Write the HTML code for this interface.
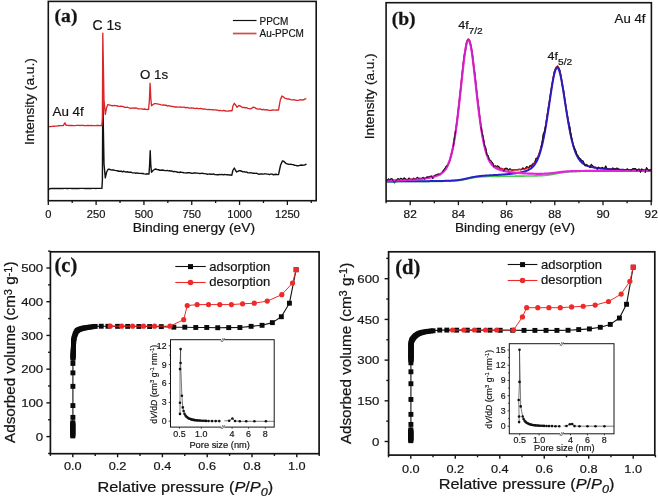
<!DOCTYPE html>
<html><head><meta charset="utf-8"><title>Figure</title>
<style>html,body{margin:0;padding:0;background:#fff;width:658px;height:497px;overflow:hidden}svg{display:block;will-change:transform}</style>
</head><body>
<svg width="658" height="497" viewBox="0 0 658 497">
<polyline points="48.3,190.2 49.3,188.9 51,188.5 52.21,188.46 53.42,188.43 54.64,188.52 55.85,188.4 57.06,188.5 58.27,188.46 59.48,188.39 60.7,188.48 61.91,188.39 63.12,188.46 64.33,188.39 65.54,188.39 66.75,188.45 67.97,188.53 69.18,188.39 70.39,188.41 71.6,188.49 72.81,188.55 74.03,188.47 75.24,188.43 76.45,188.55 77.66,188.36 78.87,188.52 80.09,188.4 81.3,188.37 82.51,188.36 83.72,188.4 84.93,188.5 86.15,188.37 87.36,188.44 88.57,188.45 89.78,188.4 90.99,188.43 92.2,188.33 93.42,188.33 94.63,188.36 95.84,188.45 97.05,188.4 98.26,188.37 99.48,188.42 100.69,188.39 101.9,188.4 102.4,180 102.8,96 103.3,125 104,164 105.3,177.9 106.6,172 108.3,169.2 109.62,169.27 110.93,169.9 112.25,170.06 113.57,169.93 114.88,170.43 116.2,170.6 117.42,170.78 118.64,171.22 119.86,171.26 121.08,171.07 122.3,171.78 123.52,171.25 124.74,171.65 125.96,172.09 127.18,171.76 128.4,172.2 129.62,172.31 130.84,172.07 132.06,172.69 133.28,172.89 134.5,172.86 135.72,173.22 136.94,172.89 138.16,173.32 139.38,173.36 140.6,173.4 141.8,173.55 143,173.54 144.2,173.93 145.4,174.1 146.6,173.81 147.8,174.05 149,174 149.6,165 150.2,150.7 150.8,165 151.5,172.2 153,170.5 154.8,169.2 156.04,169 157.29,169.67 158.53,169.78 159.78,170.22 161.02,170.24 162.27,169.96 163.51,170.2 164.76,170.58 166,170.6 167.2,170.38 168.4,170.89 169.6,170.81 170.8,170.93 172,171.05 173.2,171.77 174.4,171.42 175.6,171.68 176.8,171.95 178,172.2 179.22,172.57 180.45,172.01 181.67,172.37 182.89,172.52 184.11,172.86 185.34,172.88 186.56,172.98 187.78,172.59 189,172.77 190.23,172.79 191.45,173.28 192.67,173.41 193.9,172.84 195.12,172.93 196.34,173.04 197.56,173.11 198.79,173.39 200.01,173.54 201.23,173.35 202.45,173.21 203.68,173.61 204.9,173.65 206.12,173.87 207.35,174.25 208.57,174.11 209.79,174.04 211.01,174.2 212.24,174.31 213.46,173.89 214.68,174.63 215.9,174.61 217.13,174.75 218.35,174.76 219.57,174.51 220.8,174.59 222.02,174.42 223.24,174.91 224.46,174.53 225.69,174.6 226.91,174.79 228.13,174.82 229.35,175.03 230.58,174.87 231.8,175.3 232.8,170.5 234.3,168 235.6,170.5 236.7,172 238.9,170.8 240.27,170.77 241.63,171.25 243,171.9 244.25,171.76 245.5,172.14 246.75,172.05 248,172.9 249.25,172.87 250.5,172.67 251.75,172.93 253,173.3 254.26,173.28 255.53,173.39 256.79,173.3 258.05,173.98 259.31,174.19 260.58,173.87 261.84,173.99 263.1,174.1 264.38,173.81 265.67,173.87 266.95,174.1 268.23,174.08 269.52,174.57 270.8,174.08 272.08,174.01 273.37,174.79 274.65,174.5 275.93,174.23 277.22,174.59 278.5,174.6 280.6,165 282.5,160.9 283.7,161.25 284.9,162.37 286.1,163.46 287.3,163.8 288.52,164.31 289.74,164.4 290.97,164.28 292.19,164.58 293.41,164.64 294.63,165.35 295.86,165.38 297.08,165.8 298.3,165.8 299.67,165.4 301.03,165.05 302.4,165.25 303.77,165.12 305.13,164.75 306.5,164.2" fill="none" stroke="#111111" stroke-width="1.4" stroke-linejoin="round"/>
<polyline points="48.3,126.6 49.64,126.58 50.98,126.5 52.32,126.41 53.66,126.23 55,126.2 56.37,126.09 57.73,125.94 59.1,125.76 60.47,125.64 61.83,125.57 63.2,125.5 64.2,124.2 64.9,122.8 65.6,124.6 66.6,125.4 67.82,125.36 69.04,125.46 70.25,125.52 71.47,125.43 72.69,125.53 73.91,125.55 75.13,125.55 76.35,125.45 77.56,125.43 78.78,125.44 80,125.5 81.22,125.44 82.43,125.44 83.65,125.52 84.87,125.58 86.08,125.57 87.3,125.5 88.52,125.53 89.73,125.56 90.95,125.42 92.17,125.53 93.38,125.58 94.6,125.56 95.82,125.55 97.03,125.5 98.25,125.44 99.47,125.56 100.68,125.47 101.9,125.5 102.4,118 102.8,33.1 103.3,62 104,100 105.3,114.3 106.5,108 107.7,104.6 110,105.2 111.4,105.54 112.8,105.78 114.2,105.42 115.6,105.6 116.88,105.72 118.16,106.36 119.44,106.38 120.72,106.14 122,106.3 123.28,106.52 124.56,107.32 125.84,107.45 127.12,107.12 128.4,107.6 129.62,107.98 130.84,108.22 132.06,108.09 133.28,107.96 134.5,108.24 135.72,108.02 136.94,108.05 138.16,108.94 139.38,108.8 140.6,108.8 141.93,108.9 143.27,109.31 144.6,109 145.93,109.43 147.27,109.48 148.6,109.3 149.4,100 150.1,83.3 150.8,98 151.5,105.8 153,104.5 154.5,103.6 155.84,103.61 157.18,103.88 158.52,104.15 159.86,104.35 161.2,104.8 162.42,105.04 163.63,104.95 164.85,105.24 166.06,105.18 167.28,105.97 168.49,105.7 169.71,105.95 170.92,106.22 172.14,106.65 173.35,106.43 174.57,107 175.78,106.83 177,107 178.24,107.11 179.48,107.2 180.72,106.88 181.96,107.31 183.19,107.19 184.43,107.14 185.67,107.86 186.91,107.45 188.15,107.78 189.39,108.07 190.63,108.02 191.87,107.93 193.11,108.17 194.34,108.29 195.58,108.56 196.82,108.11 198.06,108.56 199.3,108.6 200.52,108.5 201.73,108.62 202.95,109.12 204.17,109.01 205.38,109.15 206.6,109.41 207.82,109.63 209.03,109.35 210.25,109.59 211.47,109.6 212.68,109.71 213.9,109.95 215.12,109.86 216.33,110.03 217.55,110.08 218.77,110.55 219.98,110.46 221.2,110.7 222.42,110.85 223.63,110.41 224.85,110.75 226.07,111.15 227.28,111.17 228.5,111 230.25,110.61 232,110.8 232.9,106 234.3,103.3 236,105.5 237,107.4 238.8,105.5 240.2,105.93 241.6,106.92 243,107.7 244.23,107.49 245.46,107.75 246.69,107.74 247.91,108.35 249.14,108.57 250.37,108.79 251.6,108.6 253.2,107.1 254.8,107.62 256.4,108.7 257.64,109.01 258.88,109.09 260.12,108.81 261.37,109.54 262.61,109.74 263.85,109.28 265.09,110 266.33,109.69 267.57,109.89 268.82,110.43 270.06,110.43 271.3,110.3 272.74,109.99 274.18,110.17 275.62,110.19 277.06,110.01 278.5,110.1 280.3,100 281.9,96 283.25,96.81 284.6,98.1 286.05,98.35 287.5,99.08 288.95,98.92 290.4,99.7 291.65,99.86 292.9,99.89 294.15,99.66 295.4,100.03 296.65,100.38 297.9,100.4 299.11,100.2 300.33,99.62 301.54,100.15 302.76,99.77 303.97,99.71 305.19,98.8 306.4,98.9" fill="none" stroke="#d8262b" stroke-width="1.35" stroke-linejoin="round"/>
<rect x="48.3" y="1.4" width="267.9" height="199.3" fill="none" stroke="#141414" stroke-width="1.6"/>
<line x1="48.3" y1="200.7" x2="48.3" y2="205" stroke="#141414" stroke-width="1.3"/>
<line x1="72.21" y1="200.7" x2="72.21" y2="203" stroke="#141414" stroke-width="1.3"/>
<line x1="96.12" y1="200.7" x2="96.12" y2="205" stroke="#141414" stroke-width="1.3"/>
<line x1="120.02" y1="200.7" x2="120.02" y2="203" stroke="#141414" stroke-width="1.3"/>
<line x1="143.93" y1="200.7" x2="143.93" y2="205" stroke="#141414" stroke-width="1.3"/>
<line x1="167.84" y1="200.7" x2="167.84" y2="203" stroke="#141414" stroke-width="1.3"/>
<line x1="191.75" y1="200.7" x2="191.75" y2="205" stroke="#141414" stroke-width="1.3"/>
<line x1="215.65" y1="200.7" x2="215.65" y2="203" stroke="#141414" stroke-width="1.3"/>
<line x1="239.56" y1="200.7" x2="239.56" y2="205" stroke="#141414" stroke-width="1.3"/>
<line x1="263.47" y1="200.7" x2="263.47" y2="203" stroke="#141414" stroke-width="1.3"/>
<line x1="287.38" y1="200.7" x2="287.38" y2="205" stroke="#141414" stroke-width="1.3"/>
<line x1="311.28" y1="200.7" x2="311.28" y2="203" stroke="#141414" stroke-width="1.3"/>
<text transform="translate(48.3,217.7) scale(1.05,1)" font-family='"Liberation Sans", sans-serif' font-size="10.6" text-anchor="middle" fill="#141414" stroke="#141414" stroke-width="0.19">0</text>
<text transform="translate(96.12,217.7) scale(1.05,1)" font-family='"Liberation Sans", sans-serif' font-size="10.6" text-anchor="middle" fill="#141414" stroke="#141414" stroke-width="0.19">250</text>
<text transform="translate(143.93,217.7) scale(1.05,1)" font-family='"Liberation Sans", sans-serif' font-size="10.6" text-anchor="middle" fill="#141414" stroke="#141414" stroke-width="0.19">500</text>
<text transform="translate(191.75,217.7) scale(1.05,1)" font-family='"Liberation Sans", sans-serif' font-size="10.6" text-anchor="middle" fill="#141414" stroke="#141414" stroke-width="0.19">750</text>
<text transform="translate(239.56,217.7) scale(1.05,1)" font-family='"Liberation Sans", sans-serif' font-size="10.6" text-anchor="middle" fill="#141414" stroke="#141414" stroke-width="0.19">1000</text>
<text transform="translate(287.38,217.7) scale(1.05,1)" font-family='"Liberation Sans", sans-serif' font-size="10.6" text-anchor="middle" fill="#141414" stroke="#141414" stroke-width="0.19">1250</text>
<text transform="translate(193.9,231.5) scale(1.05,1)" font-family='"Liberation Sans", sans-serif' font-size="13.2" text-anchor="middle" fill="#141414" stroke="#141414" stroke-width="0.21">Binding energy (eV)</text>
<text transform="translate(33.7,101.6) rotate(-90) scale(1.07,1)" font-family='"Liberation Sans", sans-serif' font-size="12.8" text-anchor="middle" fill="#141414" stroke="#141414" stroke-width="0.21">Intensity (a.u.)</text>
<text transform="translate(54.6,22)" font-family='"Liberation Serif", serif' font-size="19.6" text-anchor="start" fill="#141414" font-weight="bold" stroke="#141414" stroke-width="0.26">(a)</text>
<text transform="translate(92.4,29.7)" font-family='"Liberation Sans", sans-serif' font-size="14" text-anchor="start" fill="#141414" stroke="#141414" stroke-width="0.22">C 1s</text>
<text transform="translate(140,78.6)" font-family='"Liberation Sans", sans-serif' font-size="13.3" text-anchor="start" fill="#141414" stroke="#141414" stroke-width="0.21">O 1s</text>
<text transform="translate(52.5,116.3)" font-family='"Liberation Sans", sans-serif' font-size="13.4" text-anchor="start" fill="#141414" stroke="#141414" stroke-width="0.21">Au 4f</text>
<line x1="232.9" y1="20.5" x2="256.5" y2="20.5" stroke="#111" stroke-width="1.2"/>
<line x1="232.9" y1="33.5" x2="256.5" y2="33.5" stroke="#d84848" stroke-width="1.7"/>
<text transform="translate(259.5,24.8)" font-family='"Liberation Sans", sans-serif' font-size="10" text-anchor="start" fill="#141414" stroke="#141414" stroke-width="0.18">PPCM</text>
<text transform="translate(259.5,37.4)" font-family='"Liberation Sans", sans-serif' font-size="10" text-anchor="start" fill="#141414" stroke="#141414" stroke-width="0.18">Au-PPCM</text>
<polyline points="386.1,179.03 387.3,180.44 388.5,178.87 389.7,179.97 390.9,178.9 392.1,178.8 393.3,181.3 394.5,182.76 395.7,181.12 396.9,179.51 398.1,178.65 399.3,179.81 400.5,178.39 401.7,178.68 402.9,179.76 404.1,177.9 405.3,178.72 406.5,179.55 407.7,180.05 408.9,178.03 410.1,179.06 411.3,179.39 412.5,179.48 413.7,178.15 414.9,179.41 416.1,178.69 417.3,177.28 418.5,178.35 419.7,178.29 420.9,178.59 422.1,178.09 423.3,177.46 424.5,179.24 425.7,178.16 426.9,176.83 428.1,177.36 429.3,176.67 430.5,176.35 431.7,176.14 432.9,178.52 434.1,176.29 435.3,175.05 436.5,174.79 437.7,174.27 438.9,173.97 440.1,174.97 441.3,173.02 442.5,171.93 443.7,169.95 444.9,168.76 446.1,166.39 447.3,165.55 448.5,163.91 449.7,161.15 450.9,156.09 452.1,152.09 453.3,146.74 454.5,137.65 455.7,130.65 456.9,121.82 458.1,111.75 459.3,100.76 460.5,90.22 461.7,77.45 462.9,66.81 464.1,55.92 465.3,51.84 466.5,42.61 467.7,39.37 468.9,39.33 470.1,42.35 471.3,47.67 472.5,55.08 473.7,66.69 474.9,74.19 476.1,85.63 477.3,97.29 478.5,105.55 479.7,116.84 480.9,126.66 482.1,132.82 483.3,137.58 484.5,145.61 485.7,147.81 486.9,155.05 488.1,155.64 489.3,159.99 490.5,160.35 491.7,161.77 492.9,163.5 494.1,166.98 495.3,165.86 496.5,166.48 497.7,165.95 498.9,166.67 500.1,168.69 501.3,168.42 502.5,169.88 503.7,171.33 504.9,168.57 506.1,168.22 507.3,168.47 508.5,170.23 509.7,168.9 510.9,169.4 512.1,170.71 513.3,169.63 514.5,170.02 515.7,169.52 516.9,169.81 518.1,169.58 519.3,169.24 520.5,169.79 521.7,169.52 522.9,167.85 524.1,169.16 525.3,168.82 526.5,166.73 527.7,167.15 528.9,168.06 530.1,165.41 531.3,166.45 532.5,163.96 533.7,163.55 534.9,162.01 536.1,158.28 537.3,158.44 538.5,155.51 539.7,152.01 540.9,147.83 542.1,142.6 543.3,133.97 544.5,131.53 545.7,125.81 546.9,116.6 548.1,109.02 549.3,102.33 550.5,93.76 551.7,86.88 552.9,79.85 554.1,72.34 555.3,69.64 556.5,67.39 557.7,65.94 558.9,68.04 560.1,70.73 561.3,78.46 562.5,86.7 563.7,90.78 564.9,99.79 566.1,108.48 567.3,114.86 568.5,121.16 569.7,126.49 570.9,134.85 572.1,140.4 573.3,145.73 574.5,148.24 575.7,150.71 576.9,154.66 578.1,155.88 579.3,158.3 580.5,158.9 581.7,161.11 582.9,160.78 584.1,163.38 585.3,165.98 586.5,164.29 587.7,165.99 588.9,166.56 590.1,167.66 591.3,164.38 592.5,165.71 593.7,166.77 594.9,167.7 596.1,167.36 597.3,169.43 598.5,167.09 599.7,168.46 600.9,168.62 602.1,167.29 603.3,168.3 604.5,168.72 605.7,165.99 606.9,168.59 608.1,168.72 609.3,168.73 610.5,169.83 611.7,169.6 612.9,167.91 614.1,169.13 615.3,168.92 616.5,168.28 617.7,168.43 618.9,169.35 620.1,169.89 621.3,170.63 622.5,170.88 623.7,169.93 624.9,170.57 626.1,169.6 627.3,168.95 628.5,169.83 629.7,169.89 630.9,170.69 632.1,169.26 633.3,168.58 634.5,168.56 635.7,168.71 636.9,171.08 638.1,169.26 639.3,169.21 640.5,172.19 641.7,168.9 642.9,170.14 644.1,170.47 645.3,172.3 646.5,167.57 647.7,169.5 648.9,170.88 650.1,169.89 651.3,169.94" fill="none" stroke="#1a1a1a" stroke-width="1.2" stroke-linejoin="round"/>
<polyline points="386.1,181.6 386.7,181.6 387.3,181.6 387.9,181.6 388.5,181.59 389.1,181.59 389.7,181.59 390.3,181.59 390.9,181.59 391.5,181.59 392.1,181.59 392.7,181.59 393.3,181.59 393.9,181.58 394.5,181.58 395.1,181.58 395.7,181.58 396.3,181.58 396.9,181.58 397.5,181.58 398.1,181.58 398.7,181.57 399.3,181.57 399.9,181.57 400.5,181.57 401.1,181.57 401.7,181.57 402.3,181.56 402.9,181.56 403.5,181.56 404.1,181.56 404.7,181.56 405.3,181.56 405.9,181.56 406.5,181.55 407.1,181.55 407.7,181.55 408.3,181.55 408.9,181.55 409.5,181.54 410.1,181.54 410.7,181.54 411.3,181.54 411.9,181.54 412.5,181.53 413.1,181.53 413.7,181.53 414.3,181.53 414.9,181.53 415.5,181.52 416.1,181.52 416.7,181.52 417.3,181.52 417.9,181.51 418.5,181.51 419.1,181.51 419.7,181.51 420.3,181.5 420.9,181.5 421.5,181.5 422.1,181.5 422.7,181.49 423.3,181.49 423.9,181.49 424.5,181.48 425.1,181.48 425.7,181.48 426.3,181.47 426.9,181.47 427.5,181.47 428.1,181.46 428.7,181.46 429.3,181.45 429.9,181.45 430.5,181.45 431.1,181.44 431.7,181.44 432.3,181.43 432.9,181.43 433.5,181.42 434.1,181.42 434.7,181.41 435.3,181.41 435.9,181.4 436.5,181.4 437.1,181.39 437.7,181.39 438.3,181.38 438.9,181.37 439.5,181.37 440.1,181.36 440.7,181.35 441.3,181.34 441.9,181.34 442.5,181.33 443.1,181.32 443.7,181.31 444.3,181.3 444.9,181.29 445.5,181.28 446.1,181.26 446.7,181.25 447.3,181.24 447.9,181.22 448.5,181.2 449.1,181.18 449.7,181.16 450.3,181.14 450.9,181.12 451.5,181.09 452.1,181.07 452.7,181.03 453.3,181 453.9,180.96 454.5,180.93 455.1,180.88 455.7,180.84 456.3,180.78 456.9,180.73 457.5,180.67 458.1,180.61 458.7,180.54 459.3,180.46 459.9,180.39 460.5,180.3 461.1,180.21 461.7,180.12 462.3,180.02 462.9,179.92 463.5,179.81 464.1,179.69 464.7,179.58 465.3,179.45 465.9,179.33 466.5,179.2 467.1,179.07 467.7,178.94 468.3,178.81 468.9,178.68 469.5,178.55 470.1,178.43 470.7,178.3 471.3,178.18 471.9,178.06 472.5,177.95 473.1,177.84 473.7,177.74 474.3,177.64 474.9,177.54 475.5,177.45 476.1,177.37 476.7,177.29 477.3,177.22 477.9,177.15 478.5,177.08 479.1,177.02 479.7,176.97 480.3,176.92 480.9,176.87 481.5,176.83 482.1,176.79 482.7,176.75 483.3,176.72 483.9,176.68 484.5,176.66 485.1,176.63 485.7,176.6 486.3,176.58 486.9,176.56 487.5,176.54 488.1,176.53 488.7,176.51 489.3,176.49 489.9,176.48 490.5,176.47 491.1,176.45 491.7,176.44 492.3,176.43 492.9,176.42 493.5,176.41 494.1,176.4 494.7,176.39 495.3,176.38 495.9,176.37 496.5,176.37 497.1,176.36 497.7,176.35 498.3,176.34 498.9,176.33 499.5,176.33 500.1,176.32 500.7,176.31 501.3,176.31 501.9,176.3 502.5,176.29 503.1,176.29 503.7,176.28 504.3,176.28 504.9,176.27 505.5,176.26 506.1,176.26 506.7,176.25 507.3,176.25 507.9,176.24 508.5,176.23 509.1,176.23 509.7,176.22 510.3,176.22 510.9,176.21 511.5,176.21 512.1,176.2 512.7,176.2 513.3,176.19 513.9,176.18 514.5,176.18 515.1,176.17 515.7,176.17 516.3,176.16 516.9,176.16 517.5,176.15 518.1,176.14 518.7,176.14 519.3,176.13 519.9,176.13 520.5,176.12 521.1,176.11 521.7,176.11 522.3,176.1 522.9,176.09 523.5,176.09 524.1,176.08 524.7,176.07 525.3,176.07 525.9,176.06 526.5,176.05 527.1,176.04 527.7,176.04 528.3,176.03 528.9,176.02 529.5,176.01 530.1,176 530.7,175.99 531.3,175.98 531.9,175.97 532.5,175.96 533.1,175.95 533.7,175.94 534.3,175.92 534.9,175.91 535.5,175.89 536.1,175.88 536.7,175.86 537.3,175.84 537.9,175.82 538.5,175.8 539.1,175.78 539.7,175.75 540.3,175.72 540.9,175.69 541.5,175.66 542.1,175.63 542.7,175.59 543.3,175.55 543.9,175.5 544.5,175.46 545.1,175.41 545.7,175.35 546.3,175.29 546.9,175.23 547.5,175.16 548.1,175.09 548.7,175.02 549.3,174.94 549.9,174.86 550.5,174.77 551.1,174.67 551.7,174.58 552.3,174.48 552.9,174.37 553.5,174.26 554.1,174.15 554.7,174.04 555.3,173.93 555.9,173.81 556.5,173.69 557.1,173.57 557.7,173.45 558.3,173.34 558.9,173.22 559.5,173.11 560.1,173 560.7,172.89 561.3,172.79 561.9,172.69 562.5,172.59 563.1,172.5 563.7,172.41 564.3,172.33 564.9,172.25 565.5,172.17 566.1,172.1 566.7,172.03 567.3,171.97 567.9,171.91 568.5,171.86 569.1,171.81 569.7,171.76 570.3,171.72 570.9,171.68 571.5,171.64 572.1,171.61 572.7,171.58 573.3,171.55 573.9,171.52 574.5,171.5 575.1,171.47 575.7,171.45 576.3,171.43 576.9,171.42 577.5,171.4 578.1,171.38 578.7,171.37 579.3,171.36 579.9,171.34 580.5,171.33 581.1,171.32 581.7,171.31 582.3,171.3 582.9,171.29 583.5,171.28 584.1,171.27 584.7,171.27 585.3,171.26 585.9,171.25 586.5,171.25 587.1,171.24 587.7,171.23 588.3,171.23 588.9,171.22 589.5,171.21 590.1,171.21 590.7,171.2 591.3,171.2 591.9,171.19 592.5,171.19 593.1,171.19 593.7,171.18 594.3,171.18 594.9,171.17 595.5,171.17 596.1,171.16 596.7,171.16 597.3,171.16 597.9,171.15 598.5,171.15 599.1,171.15 599.7,171.14 600.3,171.14 600.9,171.14 601.5,171.13 602.1,171.13 602.7,171.13 603.3,171.12 603.9,171.12 604.5,171.12 605.1,171.11 605.7,171.11 606.3,171.11 606.9,171.11 607.5,171.1 608.1,171.1 608.7,171.1 609.3,171.1 609.9,171.09 610.5,171.09 611.1,171.09 611.7,171.09 612.3,171.09 612.9,171.08 613.5,171.08 614.1,171.08 614.7,171.08 615.3,171.08 615.9,171.07 616.5,171.07 617.1,171.07 617.7,171.07 618.3,171.07 618.9,171.06 619.5,171.06 620.1,171.06 620.7,171.06 621.3,171.06 621.9,171.06 622.5,171.05 623.1,171.05 623.7,171.05 624.3,171.05 624.9,171.05 625.5,171.05 626.1,171.05 626.7,171.04 627.3,171.04 627.9,171.04 628.5,171.04 629.1,171.04 629.7,171.04 630.3,171.04 630.9,171.03 631.5,171.03 632.1,171.03 632.7,171.03 633.3,171.03 633.9,171.03 634.5,171.03 635.1,171.03 635.7,171.03 636.3,171.02 636.9,171.02 637.5,171.02 638.1,171.02 638.7,171.02 639.3,171.02 639.9,171.02 640.5,171.02 641.1,171.02 641.7,171.01 642.3,171.01 642.9,171.01 643.5,171.01 644.1,171.01 644.7,171.01 645.3,171.01 645.9,171.01 646.5,171.01 647.1,171.01 647.7,171.01 648.3,171 648.9,171 649.5,171 650.1,171 650.7,171 651.3,171" fill="none" stroke="#44d044" stroke-width="1.6" stroke-linejoin="round"/>
<polyline points="386.1,180.53 386.7,180.51 387.3,180.5 387.9,180.48 388.5,180.46 389.1,180.45 389.7,180.43 390.3,180.41 390.9,180.4 391.5,180.38 392.1,180.36 392.7,180.34 393.3,180.32 393.9,180.3 394.5,180.28 395.1,180.26 395.7,180.24 396.3,180.22 396.9,180.2 397.5,180.17 398.1,180.15 398.7,180.13 399.3,180.1 399.9,180.08 400.5,180.05 401.1,180.03 401.7,180 402.3,179.97 402.9,179.94 403.5,179.91 404.1,179.88 404.7,179.85 405.3,179.82 405.9,179.79 406.5,179.76 407.1,179.72 407.7,179.69 408.3,179.65 408.9,179.62 409.5,179.58 410.1,179.54 410.7,179.5 411.3,179.46 411.9,179.42 412.5,179.38 413.1,179.33 413.7,179.29 414.3,179.24 414.9,179.19 415.5,179.14 416.1,179.09 416.7,179.03 417.3,178.98 417.9,178.92 418.5,178.86 419.1,178.8 419.7,178.74 420.3,178.67 420.9,178.61 421.5,178.54 422.1,178.46 422.7,178.39 423.3,178.31 423.9,178.23 424.5,178.15 425.1,178.06 425.7,177.97 426.3,177.88 426.9,177.78 427.5,177.68 428.1,177.57 428.7,177.46 429.3,177.35 429.9,177.23 430.5,177.11 431.1,176.98 431.7,176.84 432.3,176.7 432.9,176.55 433.5,176.39 434.1,176.22 434.7,176.05 435.3,175.86 435.9,175.66 436.5,175.45 437.1,175.23 437.7,174.99 438.3,174.73 438.9,174.45 439.5,174.15 440.1,173.82 440.7,173.46 441.3,173.07 441.9,172.64 442.5,172.16 443.1,171.63 443.7,171.05 444.3,170.4 444.9,169.67 445.5,168.86 446.1,167.96 446.7,166.96 447.3,165.83 447.9,164.58 448.5,163.19 449.1,161.64 449.7,159.93 450.3,158.03 450.9,155.94 451.5,153.64 452.1,151.12 452.7,148.36 453.3,145.37 453.9,142.12 454.5,138.62 455.1,134.87 455.7,130.85 456.3,126.58 456.9,122.06 457.5,117.31 458.1,112.34 458.7,107.17 459.3,101.83 459.9,96.35 460.5,90.77 461.1,85.14 461.7,79.51 462.3,73.94 462.9,68.51 463.5,63.28 464.1,58.35 464.7,53.79 465.3,49.71 465.9,46.19 466.5,43.31 467.1,41.15 467.7,39.77 468.3,39.2 468.9,39.45 469.5,40.51 470.1,42.36 470.7,44.92 471.3,48.14 471.9,51.92 472.5,56.19 473.1,60.85 473.7,65.81 474.3,70.99 474.9,76.31 475.5,81.71 476.1,87.12 476.7,92.49 477.3,97.78 477.9,102.93 478.5,107.93 479.1,112.74 479.7,117.34 480.3,121.71 480.9,125.85 481.5,129.74 482.1,133.38 482.7,136.77 483.3,139.91 483.9,142.81 484.5,145.47 485.1,147.91 485.7,150.13 486.3,152.15 486.9,153.98 487.5,155.62 488.1,157.1 488.7,158.43 489.3,159.62 489.9,160.69 490.5,161.64 491.1,162.49 491.7,163.24 492.3,163.92 492.9,164.52 493.5,165.05 494.1,165.53 494.7,165.96 495.3,166.34 495.9,166.69 496.5,167 497.1,167.28 497.7,167.53 498.3,167.76 498.9,167.97 499.5,168.16 500.1,168.34 500.7,168.5 501.3,168.64 501.9,168.78 502.5,168.9 503.1,169.01 503.7,169.12 504.3,169.21 504.9,169.3 505.5,169.38 506.1,169.45 506.7,169.52 507.3,169.58 507.9,169.63 508.5,169.68 509.1,169.72 509.7,169.75 510.3,169.78 510.9,169.8 511.5,169.82 512.1,169.83 512.7,169.84 513.3,169.84 513.9,169.84 514.5,169.83 515.1,169.82 515.7,169.8 516.3,169.77 516.9,169.74 517.5,169.7 518.1,169.66 518.7,169.61 519.3,169.55 519.9,169.49 520.5,169.42 521.1,169.34 521.7,169.26 522.3,169.16 522.9,169.06 523.5,168.95 524.1,168.82 524.7,168.68 525.3,168.53 525.9,168.37 526.5,168.19 527.1,167.98 527.7,167.76 528.3,167.52 528.9,167.24 529.5,166.94 530.1,166.61 530.7,166.23 531.3,165.82 531.9,165.35 532.5,164.84 533.1,164.26 533.7,163.62 534.3,162.91 534.9,162.12 535.5,161.23 536.1,160.26 536.7,159.17 537.3,157.98 537.9,156.66 538.5,155.21 539.1,153.62 539.7,151.89 540.3,150 540.9,147.95 541.5,145.73 542.1,143.34 542.7,140.78 543.3,138.04 543.9,135.13 544.5,132.05 545.1,128.8 545.7,125.39 546.3,121.83 546.9,118.14 547.5,114.33 548.1,110.42 548.7,106.44 549.3,102.41 549.9,98.38 550.5,94.37 551.1,90.43 551.7,86.61 552.3,82.95 552.9,79.53 553.5,76.38 554.1,73.58 554.7,71.17 555.3,69.22 555.9,67.77 556.5,66.85 557.1,66.49 557.7,66.68 558.3,67.44 558.9,68.73 559.5,70.52 560.1,72.77 560.7,75.42 561.3,78.41 561.9,81.7 562.5,85.22 563.1,88.91 563.7,92.73 564.3,96.63 564.9,100.55 565.5,104.48 566.1,108.36 566.7,112.19 567.3,115.92 567.9,119.53 568.5,123.03 569.1,126.37 569.7,129.57 570.3,132.6 570.9,135.47 571.5,138.17 572.1,140.7 572.7,143.06 573.3,145.25 573.9,147.28 574.5,149.15 575.1,150.88 575.7,152.45 576.3,153.9 576.9,155.21 577.5,156.41 578.1,157.49 578.7,158.47 579.3,159.36 579.9,160.16 580.5,160.88 581.1,161.53 581.7,162.12 582.3,162.65 582.9,163.13 583.5,163.56 584.1,163.96 584.7,164.31 585.3,164.64 585.9,164.93 586.5,165.2 587.1,165.45 587.7,165.68 588.3,165.89 588.9,166.08 589.5,166.27 590.1,166.44 590.7,166.59 591.3,166.74 591.9,166.88 592.5,167.02 593.1,167.14 593.7,167.26 594.3,167.37 594.9,167.48 595.5,167.58 596.1,167.68 596.7,167.77 597.3,167.86 597.9,167.95 598.5,168.03 599.1,168.11 599.7,168.19 600.3,168.26 600.9,168.33 601.5,168.4 602.1,168.46 602.7,168.53 603.3,168.59 603.9,168.64 604.5,168.7 605.1,168.76 605.7,168.81 606.3,168.86 606.9,168.91 607.5,168.95 608.1,169 608.7,169.05 609.3,169.09 609.9,169.13 610.5,169.17 611.1,169.21 611.7,169.25 612.3,169.28 612.9,169.32 613.5,169.35 614.1,169.39 614.7,169.42 615.3,169.45 615.9,169.48 616.5,169.51 617.1,169.54 617.7,169.57 618.3,169.6 618.9,169.62 619.5,169.65 620.1,169.68 620.7,169.7 621.3,169.72 621.9,169.75 622.5,169.77 623.1,169.79 623.7,169.81 624.3,169.84 624.9,169.86 625.5,169.88 626.1,169.9 626.7,169.91 627.3,169.93 627.9,169.95 628.5,169.97 629.1,169.99 629.7,170 630.3,170.02 630.9,170.04 631.5,170.05 632.1,170.07 632.7,170.08 633.3,170.1 633.9,170.11 634.5,170.13 635.1,170.14 635.7,170.15 636.3,170.17 636.9,170.18 637.5,170.19 638.1,170.2 638.7,170.22 639.3,170.23 639.9,170.24 640.5,170.25 641.1,170.26 641.7,170.27 642.3,170.28 642.9,170.29 643.5,170.3 644.1,170.31 644.7,170.32 645.3,170.33 645.9,170.34 646.5,170.35 647.1,170.36 647.7,170.37 648.3,170.38 648.9,170.39 649.5,170.4 650.1,170.41 650.7,170.41 651.3,170.42" fill="none" stroke="#e02828" stroke-width="1.6" stroke-linejoin="round"/>
<polyline points="386.1,181.42 386.7,181.41 387.3,181.41 387.9,181.41 388.5,181.41 389.1,181.4 389.7,181.4 390.3,181.4 390.9,181.4 391.5,181.39 392.1,181.39 392.7,181.39 393.3,181.39 393.9,181.38 394.5,181.38 395.1,181.38 395.7,181.38 396.3,181.37 396.9,181.37 397.5,181.37 398.1,181.36 398.7,181.36 399.3,181.36 399.9,181.35 400.5,181.35 401.1,181.35 401.7,181.35 402.3,181.34 402.9,181.34 403.5,181.34 404.1,181.33 404.7,181.33 405.3,181.33 405.9,181.32 406.5,181.32 407.1,181.31 407.7,181.31 408.3,181.31 408.9,181.3 409.5,181.3 410.1,181.3 410.7,181.29 411.3,181.29 411.9,181.28 412.5,181.28 413.1,181.28 413.7,181.27 414.3,181.27 414.9,181.26 415.5,181.26 416.1,181.25 416.7,181.25 417.3,181.24 417.9,181.24 418.5,181.23 419.1,181.23 419.7,181.22 420.3,181.22 420.9,181.21 421.5,181.21 422.1,181.2 422.7,181.2 423.3,181.19 423.9,181.19 424.5,181.18 425.1,181.17 425.7,181.17 426.3,181.16 426.9,181.16 427.5,181.15 428.1,181.14 428.7,181.14 429.3,181.13 429.9,181.12 430.5,181.11 431.1,181.11 431.7,181.1 432.3,181.09 432.9,181.08 433.5,181.08 434.1,181.07 434.7,181.06 435.3,181.05 435.9,181.04 436.5,181.03 437.1,181.02 437.7,181.01 438.3,181 438.9,180.99 439.5,180.98 440.1,180.97 440.7,180.96 441.3,180.95 441.9,180.94 442.5,180.92 443.1,180.91 443.7,180.9 444.3,180.88 444.9,180.87 445.5,180.85 446.1,180.83 446.7,180.81 447.3,180.79 447.9,180.77 448.5,180.75 449.1,180.73 449.7,180.7 450.3,180.68 450.9,180.65 451.5,180.62 452.1,180.58 452.7,180.55 453.3,180.51 453.9,180.47 454.5,180.42 455.1,180.37 455.7,180.32 456.3,180.26 456.9,180.2 457.5,180.14 458.1,180.07 458.7,179.99 459.3,179.91 459.9,179.83 460.5,179.73 461.1,179.64 461.7,179.54 462.3,179.43 462.9,179.32 463.5,179.2 464.1,179.08 464.7,178.96 465.3,178.83 465.9,178.69 466.5,178.56 467.1,178.42 467.7,178.28 468.3,178.14 468.9,178 469.5,177.87 470.1,177.73 470.7,177.59 471.3,177.46 471.9,177.34 472.5,177.21 473.1,177.09 473.7,176.98 474.3,176.87 474.9,176.76 475.5,176.66 476.1,176.57 476.7,176.48 477.3,176.39 477.9,176.31 478.5,176.23 479.1,176.16 479.7,176.09 480.3,176.03 480.9,175.96 481.5,175.91 482.1,175.85 482.7,175.8 483.3,175.75 483.9,175.7 484.5,175.66 485.1,175.62 485.7,175.58 486.3,175.54 486.9,175.5 487.5,175.46 488.1,175.43 488.7,175.39 489.3,175.36 489.9,175.32 490.5,175.29 491.1,175.25 491.7,175.22 492.3,175.19 492.9,175.15 493.5,175.12 494.1,175.09 494.7,175.05 495.3,175.02 495.9,174.98 496.5,174.95 497.1,174.91 497.7,174.88 498.3,174.84 498.9,174.8 499.5,174.77 500.1,174.73 500.7,174.69 501.3,174.65 501.9,174.6 502.5,174.56 503.1,174.52 503.7,174.47 504.3,174.43 504.9,174.38 505.5,174.33 506.1,174.28 506.7,174.23 507.3,174.18 507.9,174.12 508.5,174.07 509.1,174.01 509.7,173.95 510.3,173.89 510.9,173.83 511.5,173.76 512.1,173.69 512.7,173.62 513.3,173.55 513.9,173.47 514.5,173.4 515.1,173.32 515.7,173.23 516.3,173.14 516.9,173.05 517.5,172.96 518.1,172.86 518.7,172.75 519.3,172.65 519.9,172.53 520.5,172.41 521.1,172.29 521.7,172.16 522.3,172.02 522.9,171.87 523.5,171.71 524.1,171.55 524.7,171.37 525.3,171.18 525.9,170.98 526.5,170.76 527.1,170.52 527.7,170.27 528.3,169.99 528.9,169.68 529.5,169.35 530.1,168.98 530.7,168.58 531.3,168.13 531.9,167.64 532.5,167.1 533.1,166.49 533.7,165.82 534.3,165.08 534.9,164.26 535.5,163.36 536.1,162.35 536.7,161.24 537.3,160.02 537.9,158.68 538.5,157.21 539.1,155.59 539.7,153.83 540.3,151.92 540.9,149.84 541.5,147.6 542.1,145.19 542.7,142.6 543.3,139.84 543.9,136.9 544.5,133.79 545.1,130.52 545.7,127.08 546.3,123.5 546.9,119.78 547.5,115.94 548.1,112 548.7,107.99 549.3,103.94 549.9,99.87 550.5,95.83 551.1,91.86 551.7,88 552.3,84.32 552.9,80.86 553.5,77.68 554.1,74.84 554.7,72.4 555.3,70.42 555.9,68.93 556.5,67.97 557.1,67.57 557.7,67.74 558.3,68.46 558.9,69.71 559.5,71.47 560.1,73.68 560.7,76.3 561.3,79.27 561.9,82.53 562.5,86.02 563.1,89.68 563.7,93.47 564.3,97.34 564.9,101.25 565.5,105.15 566.1,109.01 566.7,112.81 567.3,116.52 567.9,120.12 568.5,123.59 569.1,126.92 569.7,130.1 570.3,133.12 570.9,135.97 571.5,138.66 572.1,141.17 572.7,143.52 573.3,145.7 573.9,147.72 574.5,149.58 575.1,151.29 575.7,152.86 576.3,154.29 576.9,155.6 577.5,156.78 578.1,157.86 578.7,158.83 579.3,159.71 579.9,160.5 580.5,161.22 581.1,161.87 581.7,162.45 582.3,162.97 582.9,163.44 583.5,163.87 584.1,164.25 584.7,164.6 585.3,164.92 585.9,165.21 586.5,165.48 587.1,165.72 587.7,165.94 588.3,166.15 588.9,166.34 589.5,166.51 590.1,166.68 590.7,166.83 591.3,166.98 591.9,167.11 592.5,167.24 593.1,167.36 593.7,167.47 594.3,167.58 594.9,167.69 595.5,167.78 596.1,167.88 596.7,167.97 597.3,168.05 597.9,168.13 598.5,168.21 599.1,168.29 599.7,168.36 600.3,168.43 600.9,168.5 601.5,168.56 602.1,168.62 602.7,168.68 603.3,168.74 603.9,168.79 604.5,168.85 605.1,168.9 605.7,168.95 606.3,168.99 606.9,169.04 607.5,169.08 608.1,169.13 608.7,169.17 609.3,169.21 609.9,169.25 610.5,169.28 611.1,169.32 611.7,169.36 612.3,169.39 612.9,169.42 613.5,169.45 614.1,169.49 614.7,169.52 615.3,169.54 615.9,169.57 616.5,169.6 617.1,169.63 617.7,169.65 618.3,169.68 618.9,169.7 619.5,169.73 620.1,169.75 620.7,169.77 621.3,169.79 621.9,169.81 622.5,169.83 623.1,169.85 623.7,169.87 624.3,169.89 624.9,169.91 625.5,169.93 626.1,169.95 626.7,169.96 627.3,169.98 627.9,170 628.5,170.01 629.1,170.03 629.7,170.04 630.3,170.06 630.9,170.07 631.5,170.08 632.1,170.1 632.7,170.11 633.3,170.12 633.9,170.14 634.5,170.15 635.1,170.16 635.7,170.17 636.3,170.18 636.9,170.2 637.5,170.21 638.1,170.22 638.7,170.23 639.3,170.24 639.9,170.25 640.5,170.26 641.1,170.27 641.7,170.28 642.3,170.29 642.9,170.3 643.5,170.3 644.1,170.31 644.7,170.32 645.3,170.33 645.9,170.34 646.5,170.35 647.1,170.35 647.7,170.36 648.3,170.37 648.9,170.38 649.5,170.38 650.1,170.39 650.7,170.4 651.3,170.4" fill="none" stroke="#2a1fcc" stroke-width="2" stroke-linejoin="round"/>
<polyline points="386.1,180.71 386.7,180.7 387.3,180.68 387.9,180.67 388.5,180.65 389.1,180.64 389.7,180.62 390.3,180.61 390.9,180.59 391.5,180.57 392.1,180.55 392.7,180.54 393.3,180.52 393.9,180.5 394.5,180.48 395.1,180.46 395.7,180.44 396.3,180.42 396.9,180.4 397.5,180.38 398.1,180.36 398.7,180.34 399.3,180.32 399.9,180.29 400.5,180.27 401.1,180.24 401.7,180.22 402.3,180.19 402.9,180.17 403.5,180.14 404.1,180.11 404.7,180.08 405.3,180.05 405.9,180.02 406.5,179.99 407.1,179.96 407.7,179.93 408.3,179.9 408.9,179.86 409.5,179.83 410.1,179.79 410.7,179.75 411.3,179.71 411.9,179.67 412.5,179.63 413.1,179.59 413.7,179.54 414.3,179.5 414.9,179.45 415.5,179.41 416.1,179.36 416.7,179.3 417.3,179.25 417.9,179.2 418.5,179.14 419.1,179.08 419.7,179.02 420.3,178.96 420.9,178.89 421.5,178.83 422.1,178.76 422.7,178.68 423.3,178.61 423.9,178.53 424.5,178.45 425.1,178.37 425.7,178.28 426.3,178.19 426.9,178.09 427.5,178 428.1,177.89 428.7,177.79 429.3,177.68 429.9,177.56 430.5,177.44 431.1,177.31 431.7,177.18 432.3,177.04 432.9,176.89 433.5,176.74 434.1,176.57 434.7,176.4 435.3,176.22 435.9,176.03 436.5,175.82 437.1,175.6 437.7,175.36 438.3,175.11 438.9,174.83 439.5,174.53 440.1,174.21 440.7,173.85 441.3,173.47 441.9,173.04 442.5,172.56 443.1,172.04 443.7,171.46 444.3,170.81 444.9,170.09 445.5,169.29 446.1,168.39 446.7,167.39 447.3,166.27 447.9,165.03 448.5,163.64 449.1,162.1 449.7,160.39 450.3,158.5 450.9,156.41 451.5,154.11 452.1,151.6 452.7,148.85 453.3,145.86 453.9,142.62 454.5,139.13 455.1,135.38 455.7,131.37 456.3,127.1 456.9,122.59 457.5,117.85 458.1,112.88 458.7,107.72 459.3,102.38 459.9,96.91 460.5,91.34 461.1,85.72 461.7,80.09 462.3,74.53 462.9,69.1 463.5,63.88 464.1,58.96 464.7,54.41 465.3,50.34 465.9,46.82 466.5,43.96 467.1,41.81 467.7,40.43 468.3,39.87 468.9,40.13 469.5,41.2 470.1,43.05 470.7,45.63 471.3,48.86 471.9,52.65 472.5,56.93 473.1,61.6 473.7,66.57 474.3,71.76 474.9,77.09 475.5,82.5 476.1,87.93 476.7,93.31 477.3,98.6 477.9,103.77 478.5,108.78 479.1,113.6 479.7,118.21 480.3,122.6 480.9,126.75 481.5,130.66 482.1,134.31 482.7,137.72 483.3,140.87 483.9,143.79 484.5,146.47 485.1,148.92 485.7,151.16 486.3,153.2 486.9,155.04 487.5,156.7 488.1,158.2 488.7,159.55 489.3,160.76 489.9,161.85 490.5,162.82 491.1,163.69 491.7,164.46 492.3,165.16 492.9,165.78 493.5,166.34 494.1,166.84 494.7,167.3 495.3,167.7 495.9,168.08 496.5,168.41 497.1,168.72 497.7,169 498.3,169.26 498.9,169.5 499.5,169.72 500.1,169.93 500.7,170.12 501.3,170.3 501.9,170.47 502.5,170.63 503.1,170.78 503.7,170.93 504.3,171.06 504.9,171.19 505.5,171.31 506.1,171.43 506.7,171.54 507.3,171.64 507.9,171.75 508.5,171.84 509.1,171.93 509.7,172.02 510.3,172.11 510.9,172.19 511.5,172.27 512.1,172.34 512.7,172.41 513.3,172.48 513.9,172.55 514.5,172.61 515.1,172.67 515.7,172.73 516.3,172.79 516.9,172.84 517.5,172.89 518.1,172.94 518.7,172.99 519.3,173.04 519.9,173.08 520.5,173.13 521.1,173.17 521.7,173.21 522.3,173.25 522.9,173.28 523.5,173.32 524.1,173.35 524.7,173.39 525.3,173.42 525.9,173.45 526.5,173.48 527.1,173.5 527.7,173.53 528.3,173.56 528.9,173.58 529.5,173.6 530.1,173.63 530.7,173.65 531.3,173.67 531.9,173.69 532.5,173.7 533.1,173.72 533.7,173.73 534.3,173.75 534.9,173.76 535.5,173.77 536.1,173.78 536.7,173.79 537.3,173.79 537.9,173.8 538.5,173.8 539.1,173.8 539.7,173.8 540.3,173.8 540.9,173.79 541.5,173.79 542.1,173.78 542.7,173.76 543.3,173.75 543.9,173.73 544.5,173.71 545.1,173.68 545.7,173.66 546.3,173.63 546.9,173.59 547.5,173.55 548.1,173.51 548.7,173.47 549.3,173.42 549.9,173.36 550.5,173.31 551.1,173.24 551.7,173.18 552.3,173.11 552.9,173.04 553.5,172.97 554.1,172.89 554.7,172.81 555.3,172.73 555.9,172.65 556.5,172.57 557.1,172.49 557.7,172.4 558.3,172.32 558.9,172.24 559.5,172.16 560.1,172.08 560.7,172 561.3,171.93 561.9,171.86 562.5,171.79 563.1,171.73 563.7,171.67 564.3,171.61 564.9,171.55 565.5,171.5 566.1,171.45 566.7,171.41 567.3,171.37 567.9,171.33 568.5,171.29 569.1,171.26 569.7,171.23 570.3,171.2 570.9,171.18 571.5,171.16 572.1,171.13 572.7,171.12 573.3,171.1 573.9,171.08 574.5,171.07 575.1,171.06 575.7,171.05 576.3,171.04 576.9,171.03 577.5,171.02 578.1,171.01 578.7,171.01 579.3,171 579.9,171 580.5,170.99 581.1,170.99 581.7,170.99 582.3,170.98 582.9,170.98 583.5,170.98 584.1,170.98 584.7,170.97 585.3,170.97 585.9,170.97 586.5,170.97 587.1,170.97 587.7,170.97 588.3,170.97 588.9,170.97 589.5,170.97 590.1,170.97 590.7,170.97 591.3,170.97 591.9,170.97 592.5,170.97 593.1,170.97 593.7,170.97 594.3,170.97 594.9,170.97 595.5,170.97 596.1,170.97 596.7,170.97 597.3,170.97 597.9,170.97 598.5,170.97 599.1,170.97 599.7,170.97 600.3,170.97 600.9,170.97 601.5,170.97 602.1,170.97 602.7,170.97 603.3,170.97 603.9,170.97 604.5,170.97 605.1,170.97 605.7,170.97 606.3,170.97 606.9,170.97 607.5,170.98 608.1,170.98 608.7,170.98 609.3,170.98 609.9,170.98 610.5,170.98 611.1,170.98 611.7,170.98 612.3,170.98 612.9,170.98 613.5,170.98 614.1,170.98 614.7,170.98 615.3,170.98 615.9,170.98 616.5,170.99 617.1,170.99 617.7,170.99 618.3,170.99 618.9,170.99 619.5,170.99 620.1,170.99 620.7,170.99 621.3,170.99 621.9,170.99 622.5,170.99 623.1,170.99 623.7,170.99 624.3,170.99 624.9,170.99 625.5,170.99 626.1,171 626.7,171 627.3,171 627.9,171 628.5,171 629.1,171 629.7,171 630.3,171 630.9,171 631.5,171 632.1,171 632.7,171 633.3,171 633.9,171 634.5,171 635.1,171 635.7,171.01 636.3,171.01 636.9,171.01 637.5,171.01 638.1,171.01 638.7,171.01 639.3,171.01 639.9,171.01 640.5,171.01 641.1,171.01 641.7,171.01 642.3,171.01 642.9,171.01 643.5,171.01 644.1,171.01 644.7,171.01 645.3,171.01 645.9,171.01 646.5,171.01 647.1,171.02 647.7,171.02 648.3,171.02 648.9,171.02 649.5,171.02 650.1,171.02 650.7,171.02 651.3,171.02" fill="none" stroke="#e424dc" stroke-width="2.2" stroke-linejoin="round"/>
<polyline points="386.1,179.03 387.3,180.44 388.5,178.87 389.7,179.97 390.9,178.9 392.1,178.8 393.3,181.3 394.5,182.76 395.7,181.12 396.9,179.51 398.1,178.65 399.3,179.81 400.5,178.39 401.7,178.68 402.9,179.76 404.1,177.9 405.3,178.72 406.5,179.55 407.7,180.05 408.9,178.03 410.1,179.06 411.3,179.39 412.5,179.48 413.7,178.15 414.9,179.41 416.1,178.69 417.3,177.28 418.5,178.35 419.7,178.29 420.9,178.59 422.1,178.09 423.3,177.46 424.5,179.24 425.7,178.16 426.9,176.83 428.1,177.36 429.3,176.67 430.5,176.35 431.7,176.14 432.9,178.52 434.1,176.29 435.3,175.05 436.5,174.79 437.7,174.27 438.9,173.97 440.1,174.97 441.3,173.02 442.5,171.93 443.7,169.95 444.9,168.76 446.1,166.39 447.3,165.55 448.5,163.91 449.7,161.15 450.9,156.09 452.1,152.09 453.3,146.74 454.5,137.65 455.7,130.65 456.9,121.82 458.1,111.75 459.3,100.76 460.5,90.22 461.7,77.45 462.9,66.81 464.1,55.92 465.3,51.84 466.5,42.61 467.7,39.37 468.9,39.33 470.1,42.35 471.3,47.67 472.5,55.08 473.7,66.69 474.9,74.19 476.1,85.63 477.3,97.29 478.5,105.55 479.7,116.84 480.9,126.66 482.1,132.82 483.3,137.58 484.5,145.61 485.7,147.81 486.9,155.05 488.1,155.64 489.3,159.99 490.5,160.35 491.7,161.77 492.9,163.5 494.1,166.98 495.3,165.86 496.5,166.48 497.7,165.95 498.9,166.67 500.1,168.69 501.3,168.42 502.5,169.88 503.7,171.33 504.9,168.57 506.1,168.22 507.3,168.47 508.5,170.23 509.7,168.9 510.9,169.4 512.1,170.71 513.3,169.63 514.5,170.02 515.7,169.52 516.9,169.81 518.1,169.58 519.3,169.24 520.5,169.79 521.7,169.52 522.9,167.85 524.1,169.16 525.3,168.82 526.5,166.73 527.7,167.15 528.9,168.06 530.1,165.41 531.3,166.45 532.5,163.96 533.7,163.55 534.9,162.01 536.1,158.28 537.3,158.44 538.5,155.51 539.7,152.01 540.9,147.83 542.1,142.6 543.3,133.97 544.5,131.53 545.7,125.81 546.9,116.6 548.1,109.02 549.3,102.33 550.5,93.76 551.7,86.88 552.9,79.85 554.1,72.34 555.3,69.64 556.5,67.39 557.7,65.94 558.9,68.04 560.1,70.73 561.3,78.46 562.5,86.7 563.7,90.78 564.9,99.79 566.1,108.48 567.3,114.86 568.5,121.16 569.7,126.49 570.9,134.85 572.1,140.4 573.3,145.73 574.5,148.24 575.7,150.71 576.9,154.66 578.1,155.88 579.3,158.3 580.5,158.9 581.7,161.11 582.9,160.78 584.1,163.38 585.3,165.98 586.5,164.29 587.7,165.99 588.9,166.56 590.1,167.66 591.3,164.38 592.5,165.71 593.7,166.77 594.9,167.7 596.1,167.36 597.3,169.43 598.5,167.09 599.7,168.46 600.9,168.62 602.1,167.29 603.3,168.3 604.5,168.72 605.7,165.99 606.9,168.59 608.1,168.72 609.3,168.73 610.5,169.83 611.7,169.6 612.9,167.91 614.1,169.13 615.3,168.92 616.5,168.28 617.7,168.43 618.9,169.35 620.1,169.89 621.3,170.63 622.5,170.88 623.7,169.93 624.9,170.57 626.1,169.6 627.3,168.95 628.5,169.83 629.7,169.89 630.9,170.69 632.1,169.26 633.3,168.58 634.5,168.56 635.7,168.71 636.9,171.08 638.1,169.26 639.3,169.21 640.5,172.19 641.7,168.9 642.9,170.14 644.1,170.47 645.3,172.3 646.5,167.57 647.7,169.5 648.9,170.88 650.1,169.89 651.3,169.94" fill="none" stroke="#301030" stroke-width="0.7" stroke-linejoin="round" opacity="0.3"/>
<polyline points="386.1,179.03 387.3,180.44" fill="none" stroke="#1a0f1a" stroke-width="1" stroke-linejoin="round" opacity="0.8"/>
<polyline points="387.3,180.44 388.5,178.87 389.7,179.97" fill="none" stroke="#1a0f1a" stroke-width="1" stroke-linejoin="round" opacity="0.8"/>
<polyline points="389.7,179.97 390.9,178.9 392.1,178.8 393.3,181.3" fill="none" stroke="#1a0f1a" stroke-width="1" stroke-linejoin="round" opacity="0.8"/>
<polyline points="395.7,181.12 396.9,179.51 398.1,178.65 399.3,179.81" fill="none" stroke="#1a0f1a" stroke-width="1" stroke-linejoin="round" opacity="0.8"/>
<polyline points="399.3,179.81 400.5,178.39 401.7,178.68 402.9,179.76" fill="none" stroke="#1a0f1a" stroke-width="1" stroke-linejoin="round" opacity="0.8"/>
<polyline points="402.9,179.76 404.1,177.9 405.3,178.72 406.5,179.55" fill="none" stroke="#1a0f1a" stroke-width="1" stroke-linejoin="round" opacity="0.8"/>
<polyline points="407.7,180.05 408.9,178.03 410.1,179.06" fill="none" stroke="#1a0f1a" stroke-width="1" stroke-linejoin="round" opacity="0.8"/>
<polyline points="412.5,179.48 413.7,178.15 414.9,179.41" fill="none" stroke="#1a0f1a" stroke-width="1" stroke-linejoin="round" opacity="0.8"/>
<polyline points="416.1,178.69 417.3,177.28 418.5,178.35 419.7,178.29" fill="none" stroke="#1a0f1a" stroke-width="1" stroke-linejoin="round" opacity="0.8"/>
<polyline points="422.1,178.09 423.3,177.46 424.5,179.24" fill="none" stroke="#1a0f1a" stroke-width="1" stroke-linejoin="round" opacity="0.8"/>
<polyline points="425.7,178.16 426.9,176.83 428.1,177.36" fill="none" stroke="#1a0f1a" stroke-width="1" stroke-linejoin="round" opacity="0.8"/>
<polyline points="428.1,177.36 429.3,176.67 430.5,176.35 431.7,176.14 432.9,178.52" fill="none" stroke="#1a0f1a" stroke-width="1" stroke-linejoin="round" opacity="0.8"/>
<polyline points="434.1,176.29 435.3,175.05 436.5,174.79 437.7,174.27 438.9,173.97" fill="none" stroke="#1a0f1a" stroke-width="1" stroke-linejoin="round" opacity="0.8"/>
<polyline points="442.5,171.93 443.7,169.95 444.9,168.76 446.1,166.39 447.3,165.55" fill="none" stroke="#1a0f1a" stroke-width="1" stroke-linejoin="round" opacity="0.8"/>
<polyline points="453.3,146.74 454.5,137.65 455.7,130.65" fill="none" stroke="#1a0f1a" stroke-width="1" stroke-linejoin="round" opacity="0.8"/>
<polyline points="480.9,126.66 482.1,132.82 483.3,137.58 484.5,145.61" fill="none" stroke="#1a0f1a" stroke-width="1" stroke-linejoin="round" opacity="0.8"/>
<polyline points="484.5,145.61 485.7,147.81 486.9,155.05" fill="none" stroke="#1a0f1a" stroke-width="1" stroke-linejoin="round" opacity="0.8"/>
<polyline points="486.9,155.05 488.1,155.64 489.3,159.99" fill="none" stroke="#1a0f1a" stroke-width="1" stroke-linejoin="round" opacity="0.8"/>
<polyline points="489.3,159.99 490.5,160.35 491.7,161.77 492.9,163.5 494.1,166.98" fill="none" stroke="#1a0f1a" stroke-width="1" stroke-linejoin="round" opacity="0.8"/>
<polyline points="495.3,165.86 496.5,166.48 497.7,165.95 498.9,166.67 500.1,168.69" fill="none" stroke="#1a0f1a" stroke-width="1" stroke-linejoin="round" opacity="0.8"/>
<polyline points="503.7,171.33 504.9,168.57 506.1,168.22 507.3,168.47 508.5,170.23" fill="none" stroke="#1a0f1a" stroke-width="1" stroke-linejoin="round" opacity="0.8"/>
<polyline points="508.5,170.23 509.7,168.9 510.9,169.4" fill="none" stroke="#1a0f1a" stroke-width="1" stroke-linejoin="round" opacity="0.8"/>
<polyline points="521.7,169.52 522.9,167.85 524.1,169.16" fill="none" stroke="#1a0f1a" stroke-width="1" stroke-linejoin="round" opacity="0.8"/>
<polyline points="525.3,168.82 526.5,166.73 527.7,167.15 528.9,168.06" fill="none" stroke="#1a0f1a" stroke-width="1" stroke-linejoin="round" opacity="0.8"/>
<polyline points="528.9,168.06 530.1,165.41 531.3,166.45" fill="none" stroke="#1a0f1a" stroke-width="1" stroke-linejoin="round" opacity="0.8"/>
<polyline points="531.3,166.45 532.5,163.96 533.7,163.55" fill="none" stroke="#1a0f1a" stroke-width="1" stroke-linejoin="round" opacity="0.8"/>
<polyline points="534.9,162.01 536.1,158.28 537.3,158.44" fill="none" stroke="#1a0f1a" stroke-width="1" stroke-linejoin="round" opacity="0.8"/>
<polyline points="540.9,147.83 542.1,142.6 543.3,133.97 544.5,131.53 545.7,125.81" fill="none" stroke="#1a0f1a" stroke-width="1" stroke-linejoin="round" opacity="0.8"/>
<polyline points="569.7,126.49 570.9,134.85 572.1,140.4" fill="none" stroke="#1a0f1a" stroke-width="1" stroke-linejoin="round" opacity="0.8"/>
<polyline points="573.3,145.73 574.5,148.24 575.7,150.71 576.9,154.66 578.1,155.88 579.3,158.3 580.5,158.9 581.7,161.11 582.9,160.78 584.1,163.38 585.3,165.98" fill="none" stroke="#1a0f1a" stroke-width="1" stroke-linejoin="round" opacity="0.8"/>
<polyline points="585.3,165.98 586.5,164.29 587.7,165.99" fill="none" stroke="#1a0f1a" stroke-width="1" stroke-linejoin="round" opacity="0.8"/>
<polyline points="590.1,167.66 591.3,164.38 592.5,165.71 593.7,166.77" fill="none" stroke="#1a0f1a" stroke-width="1" stroke-linejoin="round" opacity="0.8"/>
<polyline points="597.3,169.43 598.5,167.09 599.7,168.46" fill="none" stroke="#1a0f1a" stroke-width="1" stroke-linejoin="round" opacity="0.8"/>
<polyline points="600.9,168.62 602.1,167.29 603.3,168.3" fill="none" stroke="#1a0f1a" stroke-width="1" stroke-linejoin="round" opacity="0.8"/>
<polyline points="604.5,168.72 605.7,165.99 606.9,168.59" fill="none" stroke="#1a0f1a" stroke-width="1" stroke-linejoin="round" opacity="0.8"/>
<polyline points="611.7,169.6 612.9,167.91 614.1,169.13" fill="none" stroke="#1a0f1a" stroke-width="1" stroke-linejoin="round" opacity="0.8"/>
<polyline points="614.1,169.13 615.3,168.92 616.5,168.28 617.7,168.43 618.9,169.35" fill="none" stroke="#1a0f1a" stroke-width="1" stroke-linejoin="round" opacity="0.8"/>
<polyline points="626.1,169.6 627.3,168.95 628.5,169.83" fill="none" stroke="#1a0f1a" stroke-width="1" stroke-linejoin="round" opacity="0.8"/>
<polyline points="630.9,170.69 632.1,169.26 633.3,168.58 634.5,168.56 635.7,168.71 636.9,171.08" fill="none" stroke="#1a0f1a" stroke-width="1" stroke-linejoin="round" opacity="0.8"/>
<polyline points="636.9,171.08 638.1,169.26 639.3,169.21 640.5,172.19" fill="none" stroke="#1a0f1a" stroke-width="1" stroke-linejoin="round" opacity="0.8"/>
<polyline points="640.5,172.19 641.7,168.9 642.9,170.14" fill="none" stroke="#1a0f1a" stroke-width="1" stroke-linejoin="round" opacity="0.8"/>
<polyline points="645.3,172.3 646.5,167.57 647.7,169.5 648.9,170.88" fill="none" stroke="#1a0f1a" stroke-width="1" stroke-linejoin="round" opacity="0.8"/>
<polyline points="648.9,170.88 650.1,169.89 651.3,169.94" fill="none" stroke="#1a0f1a" stroke-width="1" stroke-linejoin="round" opacity="0.8"/>
<rect x="386.1" y="2.7" width="265.3" height="198.3" fill="none" stroke="#141414" stroke-width="1.6"/>
<line x1="386.1" y1="201" x2="386.1" y2="203.3" stroke="#141414" stroke-width="1.3"/>
<line x1="410.2" y1="201" x2="410.2" y2="205.2" stroke="#141414" stroke-width="1.3"/>
<line x1="434.3" y1="201" x2="434.3" y2="203.3" stroke="#141414" stroke-width="1.3"/>
<line x1="458.4" y1="201" x2="458.4" y2="205.2" stroke="#141414" stroke-width="1.3"/>
<line x1="482.5" y1="201" x2="482.5" y2="203.3" stroke="#141414" stroke-width="1.3"/>
<line x1="506.6" y1="201" x2="506.6" y2="205.2" stroke="#141414" stroke-width="1.3"/>
<line x1="530.7" y1="201" x2="530.7" y2="203.3" stroke="#141414" stroke-width="1.3"/>
<line x1="554.8" y1="201" x2="554.8" y2="205.2" stroke="#141414" stroke-width="1.3"/>
<line x1="578.9" y1="201" x2="578.9" y2="203.3" stroke="#141414" stroke-width="1.3"/>
<line x1="603" y1="201" x2="603" y2="205.2" stroke="#141414" stroke-width="1.3"/>
<line x1="627.1" y1="201" x2="627.1" y2="203.3" stroke="#141414" stroke-width="1.3"/>
<line x1="651.2" y1="201" x2="651.2" y2="205.2" stroke="#141414" stroke-width="1.3"/>
<text transform="translate(410.2,217.7) scale(1.13,1)" font-family='"Liberation Sans", sans-serif' font-size="10.5" text-anchor="middle" fill="#141414" stroke="#141414" stroke-width="0.19">82</text>
<text transform="translate(458.4,217.7) scale(1.13,1)" font-family='"Liberation Sans", sans-serif' font-size="10.5" text-anchor="middle" fill="#141414" stroke="#141414" stroke-width="0.19">84</text>
<text transform="translate(506.6,217.7) scale(1.13,1)" font-family='"Liberation Sans", sans-serif' font-size="10.5" text-anchor="middle" fill="#141414" stroke="#141414" stroke-width="0.19">86</text>
<text transform="translate(554.8,217.7) scale(1.13,1)" font-family='"Liberation Sans", sans-serif' font-size="10.5" text-anchor="middle" fill="#141414" stroke="#141414" stroke-width="0.19">88</text>
<text transform="translate(603,217.7) scale(1.13,1)" font-family='"Liberation Sans", sans-serif' font-size="10.5" text-anchor="middle" fill="#141414" stroke="#141414" stroke-width="0.19">90</text>
<text transform="translate(651.2,217.7) scale(1.13,1)" font-family='"Liberation Sans", sans-serif' font-size="10.5" text-anchor="middle" fill="#141414" stroke="#141414" stroke-width="0.19">92</text>
<text transform="translate(515,231.7) scale(1.03,1)" font-family='"Liberation Sans", sans-serif' font-size="13.2" text-anchor="middle" fill="#141414" stroke="#141414" stroke-width="0.21">Binding energy (eV)</text>
<text transform="translate(374.4,96.4) rotate(-90) scale(1.06,1)" font-family='"Liberation Sans", sans-serif' font-size="12.8" text-anchor="middle" fill="#141414" stroke="#141414" stroke-width="0.21">Intensity (a.u.)</text>
<text transform="translate(391.7,25)" font-family='"Liberation Serif", serif' font-size="19.6" text-anchor="start" fill="#141414" font-weight="bold" stroke="#141414" stroke-width="0.26">(b)</text>
<text transform="translate(614.6,23)" font-family='"Liberation Sans", sans-serif' font-size="13.2" text-anchor="start" fill="#141414" stroke="#141414" stroke-width="0.21">Au 4f</text>
<text transform="translate(458.2,28.8) scale(1.18,1)" font-family='"Liberation Sans", sans-serif' font-size="10.6" text-anchor="start" fill="#141414" stroke="#141414" stroke-width="0.19">4f<tspan font-size="8.6" dy="4.8">7/2</tspan></text>
<text transform="translate(547.6,59.7) scale(1.18,1)" font-family='"Liberation Sans", sans-serif' font-size="10.6" text-anchor="start" fill="#141414" stroke="#141414" stroke-width="0.19">4f<tspan font-size="8.6" dy="4.8">5/2</tspan></text>
<polyline points="72.8,435.93 72.8,434.91 72.8,433.9 72.8,432.89 72.8,431.88 72.8,430.87 72.8,429.86 72.8,428.84 72.8,427.83 72.8,426.82 72.8,425.81 72.8,424.8 72.8,423.79 72.8,422.77 72.91,417.38 72.91,405.58 72.91,386.36 72.91,372.87 72.91,363.43 72.98,358.37 73.02,357.36 73.06,356.35 73.1,355.33 73.14,354.32 73.18,353.31 73.22,352.3 73.26,351.29 73.3,350.28 73.34,349.27 73.38,348.25 73.42,347.24 73.46,346.23 73.5,345.22 73.54,344.21 73.58,343.2 73.62,342.18 73.66,341.17 73.7,340.16 73.92,338.81 74.14,337.8 74.59,336.11 75.04,334.77 75.49,333.59 76.16,332.07 76.83,331.06 77.5,330.38 78.4,329.78 79.52,329.37 80.64,328.93 81.76,328.59 82.88,328.29 84,328.02 85.34,327.82 87.14,327.52 88.93,327.25 90.72,327.01 92.96,326.67 95.2,326.4 101.25,326.23 107.97,326.27 117.6,326.34 127.68,326.4 138.88,326.47 149.63,326.54 161.28,326.61 173.82,327.18 184.8,327.21 195.78,327.48 206.75,327.48 217.73,327.75 228.7,327.62 239.9,327.52 251.1,326.34 262.08,325.32 272.38,322.63 281.34,316.73 289.41,303.2 296.13,269.69" fill="none" stroke="#111" stroke-width="1.1" stroke-linejoin="round"/>
<rect x="70.35" y="433.48" width="4.9" height="4.9" fill="#0a0a0a"/>
<rect x="70.35" y="432.46" width="4.9" height="4.9" fill="#0a0a0a"/>
<rect x="70.35" y="431.45" width="4.9" height="4.9" fill="#0a0a0a"/>
<rect x="70.35" y="430.44" width="4.9" height="4.9" fill="#0a0a0a"/>
<rect x="70.35" y="429.43" width="4.9" height="4.9" fill="#0a0a0a"/>
<rect x="70.35" y="428.42" width="4.9" height="4.9" fill="#0a0a0a"/>
<rect x="70.35" y="427.41" width="4.9" height="4.9" fill="#0a0a0a"/>
<rect x="70.35" y="426.39" width="4.9" height="4.9" fill="#0a0a0a"/>
<rect x="70.35" y="425.38" width="4.9" height="4.9" fill="#0a0a0a"/>
<rect x="70.35" y="424.37" width="4.9" height="4.9" fill="#0a0a0a"/>
<rect x="70.35" y="423.36" width="4.9" height="4.9" fill="#0a0a0a"/>
<rect x="70.35" y="422.35" width="4.9" height="4.9" fill="#0a0a0a"/>
<rect x="70.35" y="421.34" width="4.9" height="4.9" fill="#0a0a0a"/>
<rect x="70.35" y="420.32" width="4.9" height="4.9" fill="#0a0a0a"/>
<rect x="70.46" y="414.93" width="4.9" height="4.9" fill="#0a0a0a"/>
<rect x="70.46" y="403.13" width="4.9" height="4.9" fill="#0a0a0a"/>
<rect x="70.46" y="383.91" width="4.9" height="4.9" fill="#0a0a0a"/>
<rect x="70.46" y="370.42" width="4.9" height="4.9" fill="#0a0a0a"/>
<rect x="70.46" y="360.98" width="4.9" height="4.9" fill="#0a0a0a"/>
<rect x="70.53" y="355.92" width="4.9" height="4.9" fill="#0a0a0a"/>
<rect x="70.57" y="354.91" width="4.9" height="4.9" fill="#0a0a0a"/>
<rect x="70.61" y="353.9" width="4.9" height="4.9" fill="#0a0a0a"/>
<rect x="70.65" y="352.88" width="4.9" height="4.9" fill="#0a0a0a"/>
<rect x="70.69" y="351.87" width="4.9" height="4.9" fill="#0a0a0a"/>
<rect x="70.73" y="350.86" width="4.9" height="4.9" fill="#0a0a0a"/>
<rect x="70.77" y="349.85" width="4.9" height="4.9" fill="#0a0a0a"/>
<rect x="70.81" y="348.84" width="4.9" height="4.9" fill="#0a0a0a"/>
<rect x="70.85" y="347.83" width="4.9" height="4.9" fill="#0a0a0a"/>
<rect x="70.89" y="346.82" width="4.9" height="4.9" fill="#0a0a0a"/>
<rect x="70.93" y="345.8" width="4.9" height="4.9" fill="#0a0a0a"/>
<rect x="70.97" y="344.79" width="4.9" height="4.9" fill="#0a0a0a"/>
<rect x="71.01" y="343.78" width="4.9" height="4.9" fill="#0a0a0a"/>
<rect x="71.05" y="342.77" width="4.9" height="4.9" fill="#0a0a0a"/>
<rect x="71.09" y="341.76" width="4.9" height="4.9" fill="#0a0a0a"/>
<rect x="71.13" y="340.75" width="4.9" height="4.9" fill="#0a0a0a"/>
<rect x="71.17" y="339.73" width="4.9" height="4.9" fill="#0a0a0a"/>
<rect x="71.21" y="338.72" width="4.9" height="4.9" fill="#0a0a0a"/>
<rect x="71.25" y="337.71" width="4.9" height="4.9" fill="#0a0a0a"/>
<rect x="71.47" y="336.36" width="4.9" height="4.9" fill="#0a0a0a"/>
<rect x="71.69" y="335.35" width="4.9" height="4.9" fill="#0a0a0a"/>
<rect x="72.14" y="333.66" width="4.9" height="4.9" fill="#0a0a0a"/>
<rect x="72.59" y="332.32" width="4.9" height="4.9" fill="#0a0a0a"/>
<rect x="73.04" y="331.14" width="4.9" height="4.9" fill="#0a0a0a"/>
<rect x="73.71" y="329.62" width="4.9" height="4.9" fill="#0a0a0a"/>
<rect x="74.38" y="328.61" width="4.9" height="4.9" fill="#0a0a0a"/>
<rect x="75.05" y="327.93" width="4.9" height="4.9" fill="#0a0a0a"/>
<rect x="75.95" y="327.33" width="4.9" height="4.9" fill="#0a0a0a"/>
<rect x="77.07" y="326.92" width="4.9" height="4.9" fill="#0a0a0a"/>
<rect x="78.19" y="326.48" width="4.9" height="4.9" fill="#0a0a0a"/>
<rect x="79.31" y="326.14" width="4.9" height="4.9" fill="#0a0a0a"/>
<rect x="80.43" y="325.84" width="4.9" height="4.9" fill="#0a0a0a"/>
<rect x="81.55" y="325.57" width="4.9" height="4.9" fill="#0a0a0a"/>
<rect x="82.89" y="325.37" width="4.9" height="4.9" fill="#0a0a0a"/>
<rect x="84.69" y="325.07" width="4.9" height="4.9" fill="#0a0a0a"/>
<rect x="86.48" y="324.8" width="4.9" height="4.9" fill="#0a0a0a"/>
<rect x="88.27" y="324.56" width="4.9" height="4.9" fill="#0a0a0a"/>
<rect x="90.51" y="324.22" width="4.9" height="4.9" fill="#0a0a0a"/>
<rect x="92.75" y="323.95" width="4.9" height="4.9" fill="#0a0a0a"/>
<rect x="98.8" y="323.78" width="4.9" height="4.9" fill="#0a0a0a"/>
<rect x="105.52" y="323.82" width="4.9" height="4.9" fill="#0a0a0a"/>
<rect x="115.15" y="323.89" width="4.9" height="4.9" fill="#0a0a0a"/>
<rect x="125.23" y="323.95" width="4.9" height="4.9" fill="#0a0a0a"/>
<rect x="136.43" y="324.02" width="4.9" height="4.9" fill="#0a0a0a"/>
<rect x="147.18" y="324.09" width="4.9" height="4.9" fill="#0a0a0a"/>
<rect x="158.83" y="324.16" width="4.9" height="4.9" fill="#0a0a0a"/>
<rect x="171.37" y="324.73" width="4.9" height="4.9" fill="#0a0a0a"/>
<rect x="182.35" y="324.76" width="4.9" height="4.9" fill="#0a0a0a"/>
<rect x="193.33" y="325.03" width="4.9" height="4.9" fill="#0a0a0a"/>
<rect x="204.3" y="325.03" width="4.9" height="4.9" fill="#0a0a0a"/>
<rect x="215.28" y="325.3" width="4.9" height="4.9" fill="#0a0a0a"/>
<rect x="226.25" y="325.17" width="4.9" height="4.9" fill="#0a0a0a"/>
<rect x="237.45" y="325.07" width="4.9" height="4.9" fill="#0a0a0a"/>
<rect x="248.65" y="323.89" width="4.9" height="4.9" fill="#0a0a0a"/>
<rect x="259.63" y="322.87" width="4.9" height="4.9" fill="#0a0a0a"/>
<rect x="269.93" y="320.18" width="4.9" height="4.9" fill="#0a0a0a"/>
<rect x="278.89" y="314.28" width="4.9" height="4.9" fill="#0a0a0a"/>
<rect x="286.96" y="300.75" width="4.9" height="4.9" fill="#0a0a0a"/>
<rect x="293.68" y="267.24" width="4.9" height="4.9" fill="#0a0a0a"/>
<polyline points="110.21,326.17 121.63,326.17 132.61,326.17 143.58,326.17 154.56,326.17 170.02,326.17 183.68,319.69 187.26,305.6 197.12,304.59 208.54,304.59 219.74,304.59 231.39,304.59 242.59,303.81 254.24,303.2 267.23,301.11 281.79,294.64 292.54,283.01 296.13,269.69" fill="none" stroke="#ee2a2a" stroke-width="1" stroke-linejoin="round"/>
<circle cx="110.21" cy="326.17" r="2.6" fill="#ee2a2a"/>
<circle cx="121.63" cy="326.17" r="2.6" fill="#ee2a2a"/>
<circle cx="132.61" cy="326.17" r="2.6" fill="#ee2a2a"/>
<circle cx="143.58" cy="326.17" r="2.6" fill="#ee2a2a"/>
<circle cx="154.56" cy="326.17" r="2.6" fill="#ee2a2a"/>
<circle cx="170.02" cy="326.17" r="2.6" fill="#ee2a2a"/>
<circle cx="183.68" cy="319.69" r="2.6" fill="#ee2a2a"/>
<circle cx="187.26" cy="305.6" r="2.6" fill="#ee2a2a"/>
<circle cx="197.12" cy="304.59" r="2.6" fill="#ee2a2a"/>
<circle cx="208.54" cy="304.59" r="2.6" fill="#ee2a2a"/>
<circle cx="219.74" cy="304.59" r="2.6" fill="#ee2a2a"/>
<circle cx="231.39" cy="304.59" r="2.6" fill="#ee2a2a"/>
<circle cx="242.59" cy="303.81" r="2.6" fill="#ee2a2a"/>
<circle cx="254.24" cy="303.2" r="2.6" fill="#ee2a2a"/>
<circle cx="267.23" cy="301.11" r="2.6" fill="#ee2a2a"/>
<circle cx="281.79" cy="294.64" r="2.6" fill="#ee2a2a"/>
<circle cx="292.54" cy="283.01" r="2.6" fill="#ee2a2a"/>
<rect x="293.63" y="267.19" width="5" height="5" fill="#ee2a2a"/>
<rect x="50.4" y="251.8" width="268.7" height="201.9" fill="none" stroke="#141414" stroke-width="1.7"/>
<line x1="50.4" y1="453.7" x2="50.4" y2="455.9" stroke="#141414" stroke-width="1.4"/>
<line x1="72.8" y1="453.7" x2="72.8" y2="457.3" stroke="#141414" stroke-width="1.4"/>
<line x1="95.2" y1="453.7" x2="95.2" y2="455.9" stroke="#141414" stroke-width="1.4"/>
<line x1="117.6" y1="453.7" x2="117.6" y2="457.3" stroke="#141414" stroke-width="1.4"/>
<line x1="140" y1="453.7" x2="140" y2="455.9" stroke="#141414" stroke-width="1.4"/>
<line x1="162.4" y1="453.7" x2="162.4" y2="457.3" stroke="#141414" stroke-width="1.4"/>
<line x1="184.8" y1="453.7" x2="184.8" y2="455.9" stroke="#141414" stroke-width="1.4"/>
<line x1="207.2" y1="453.7" x2="207.2" y2="457.3" stroke="#141414" stroke-width="1.4"/>
<line x1="229.6" y1="453.7" x2="229.6" y2="455.9" stroke="#141414" stroke-width="1.4"/>
<line x1="252" y1="453.7" x2="252" y2="457.3" stroke="#141414" stroke-width="1.4"/>
<line x1="274.4" y1="453.7" x2="274.4" y2="455.9" stroke="#141414" stroke-width="1.4"/>
<line x1="296.8" y1="453.7" x2="296.8" y2="457.3" stroke="#141414" stroke-width="1.4"/>
<line x1="319.2" y1="453.7" x2="319.2" y2="455.9" stroke="#141414" stroke-width="1.4"/>
<text transform="translate(72.8,469.8) scale(1.08,1)" font-family='"Liberation Sans", sans-serif' font-size="11.8" text-anchor="middle" fill="#141414" stroke="#141414" stroke-width="0.2">0.0</text>
<text transform="translate(117.6,469.8) scale(1.08,1)" font-family='"Liberation Sans", sans-serif' font-size="11.8" text-anchor="middle" fill="#141414" stroke="#141414" stroke-width="0.2">0.2</text>
<text transform="translate(162.4,469.8) scale(1.08,1)" font-family='"Liberation Sans", sans-serif' font-size="11.8" text-anchor="middle" fill="#141414" stroke="#141414" stroke-width="0.2">0.4</text>
<text transform="translate(207.2,469.8) scale(1.08,1)" font-family='"Liberation Sans", sans-serif' font-size="11.8" text-anchor="middle" fill="#141414" stroke="#141414" stroke-width="0.2">0.6</text>
<text transform="translate(252,469.8) scale(1.08,1)" font-family='"Liberation Sans", sans-serif' font-size="11.8" text-anchor="middle" fill="#141414" stroke="#141414" stroke-width="0.2">0.8</text>
<text transform="translate(296.8,469.8) scale(1.08,1)" font-family='"Liberation Sans", sans-serif' font-size="11.8" text-anchor="middle" fill="#141414" stroke="#141414" stroke-width="0.2">1.0</text>
<line x1="46.4" y1="436.6" x2="50.4" y2="436.6" stroke="#141414" stroke-width="1.4"/>
<text transform="translate(43.2,440.8) scale(1.12,1)" font-family='"Liberation Sans", sans-serif' font-size="11.8" text-anchor="end" fill="#141414" stroke="#141414" stroke-width="0.2">0</text>
<line x1="46.4" y1="402.88" x2="50.4" y2="402.88" stroke="#141414" stroke-width="1.4"/>
<text transform="translate(43.2,407.08) scale(1.12,1)" font-family='"Liberation Sans", sans-serif' font-size="11.8" text-anchor="end" fill="#141414" stroke="#141414" stroke-width="0.2">100</text>
<line x1="46.4" y1="369.16" x2="50.4" y2="369.16" stroke="#141414" stroke-width="1.4"/>
<text transform="translate(43.2,373.36) scale(1.12,1)" font-family='"Liberation Sans", sans-serif' font-size="11.8" text-anchor="end" fill="#141414" stroke="#141414" stroke-width="0.2">200</text>
<line x1="46.4" y1="335.44" x2="50.4" y2="335.44" stroke="#141414" stroke-width="1.4"/>
<text transform="translate(43.2,339.64) scale(1.12,1)" font-family='"Liberation Sans", sans-serif' font-size="11.8" text-anchor="end" fill="#141414" stroke="#141414" stroke-width="0.2">300</text>
<line x1="46.4" y1="301.72" x2="50.4" y2="301.72" stroke="#141414" stroke-width="1.4"/>
<text transform="translate(43.2,305.92) scale(1.12,1)" font-family='"Liberation Sans", sans-serif' font-size="11.8" text-anchor="end" fill="#141414" stroke="#141414" stroke-width="0.2">400</text>
<line x1="46.4" y1="268" x2="50.4" y2="268" stroke="#141414" stroke-width="1.4"/>
<text transform="translate(43.2,272.2) scale(1.12,1)" font-family='"Liberation Sans", sans-serif' font-size="11.8" text-anchor="end" fill="#141414" stroke="#141414" stroke-width="0.2">500</text>
<line x1="48.1" y1="453.46" x2="50.4" y2="453.46" stroke="#141414" stroke-width="1.4"/>
<line x1="48.1" y1="419.74" x2="50.4" y2="419.74" stroke="#141414" stroke-width="1.4"/>
<line x1="48.1" y1="386.02" x2="50.4" y2="386.02" stroke="#141414" stroke-width="1.4"/>
<line x1="48.1" y1="352.3" x2="50.4" y2="352.3" stroke="#141414" stroke-width="1.4"/>
<line x1="48.1" y1="318.58" x2="50.4" y2="318.58" stroke="#141414" stroke-width="1.4"/>
<line x1="48.1" y1="284.86" x2="50.4" y2="284.86" stroke="#141414" stroke-width="1.4"/>
<line x1="48.1" y1="251.14" x2="50.4" y2="251.14" stroke="#141414" stroke-width="1.4"/>
<line x1="175.3" y1="266.5" x2="205.7" y2="266.5" stroke="#111" stroke-width="1.1"/>
<rect x="188" y="264.1" width="5" height="5" fill="#0a0a0a"/>
<line x1="175.3" y1="282.5" x2="205.7" y2="282.5" stroke="#ee2a2a" stroke-width="1.1"/>
<circle cx="190.5" cy="282.5" r="2.8" fill="#ee2a2a"/>
<text transform="translate(209.3,271.2) scale(1.07,1)" font-family='"Liberation Sans", sans-serif' font-size="12.2" text-anchor="start" fill="#141414" stroke="#141414" stroke-width="0.2">adsorption</text>
<text transform="translate(209.3,286.1) scale(1.07,1)" font-family='"Liberation Sans", sans-serif' font-size="12.2" text-anchor="start" fill="#141414" stroke="#141414" stroke-width="0.2">desorption</text>
<text transform="translate(54.5,271.9) scale(1.03,1)" font-family='"Liberation Serif", serif' font-size="19.9" text-anchor="start" fill="#141414" font-weight="bold" stroke="#141414" stroke-width="0.26">(c)</text>
<text transform="translate(97.4,492.4) scale(1.15,1)" font-family='"Liberation Sans", sans-serif' font-size="14.2" text-anchor="start" fill="#141414" stroke="#141414" stroke-width="0.22">Relative pressure (<tspan font-style="italic">P</tspan>/<tspan font-style="italic">P</tspan><tspan font-size="11" dy="3.6" font-style="italic">0</tspan><tspan dy="-3.6">)</tspan></text>
<text transform="translate(15.4,442.9) rotate(-90) scale(1,1)" font-family='"Liberation Sans", sans-serif' font-size="15.2" text-anchor="start" fill="#141414" stroke="#141414" stroke-width="0.23">Adsorbed volume (cm<tspan font-size="11" dy="-3.8">3</tspan><tspan dy="3.8"> g</tspan><tspan font-size="11" dy="-3.8">-1</tspan><tspan dy="3.8">)</tspan></text>
<rect x="170.5" y="339.7" width="103.7" height="87.4" fill="#ffffff" stroke="none"/>
<polyline points="180,413.9 180,402.8 180,369.1 180.6,349.1 180.6,363 181.9,395.8 182.8,407.4 183.6,411 184.5,413.8 185.5,415.6 186.5,416.8 187.5,417.6 188.5,418.2 189.5,418.7 190.5,419.1 191.5,419.4 192.5,419.7 193.5,419.9 194.5,420.1 195.5,420.3 197,420.4 198.5,420.5 200,420.6 202,420.7 204,420.8 206,420.9 208.5,421 212,421.1 215.7,421.1 219.3,421.1" fill="none" stroke="#333" stroke-width="0.65" stroke-linejoin="round"/>
<circle cx="180" cy="413.9" r="1.3" fill="#111"/>
<circle cx="180" cy="402.8" r="1.3" fill="#111"/>
<circle cx="180" cy="369.1" r="1.3" fill="#111"/>
<circle cx="180.6" cy="349.1" r="1.3" fill="#111"/>
<circle cx="180.6" cy="363" r="1.3" fill="#111"/>
<circle cx="181.9" cy="395.8" r="1.3" fill="#111"/>
<circle cx="182.8" cy="407.4" r="1.3" fill="#111"/>
<circle cx="183.6" cy="411" r="1.3" fill="#111"/>
<circle cx="184.5" cy="413.8" r="1.3" fill="#111"/>
<circle cx="185.5" cy="415.6" r="1.3" fill="#111"/>
<circle cx="186.5" cy="416.8" r="1.3" fill="#111"/>
<circle cx="187.5" cy="417.6" r="1.3" fill="#111"/>
<circle cx="188.5" cy="418.2" r="1.3" fill="#111"/>
<circle cx="189.5" cy="418.7" r="1.3" fill="#111"/>
<circle cx="190.5" cy="419.1" r="1.3" fill="#111"/>
<circle cx="191.5" cy="419.4" r="1.3" fill="#111"/>
<circle cx="192.5" cy="419.7" r="1.3" fill="#111"/>
<circle cx="193.5" cy="419.9" r="1.3" fill="#111"/>
<circle cx="194.5" cy="420.1" r="1.3" fill="#111"/>
<circle cx="195.5" cy="420.3" r="1.3" fill="#111"/>
<circle cx="197" cy="420.4" r="1.3" fill="#111"/>
<circle cx="198.5" cy="420.5" r="1.3" fill="#111"/>
<circle cx="200" cy="420.6" r="1.3" fill="#111"/>
<circle cx="202" cy="420.7" r="1.3" fill="#111"/>
<circle cx="204" cy="420.8" r="1.3" fill="#111"/>
<circle cx="206" cy="420.9" r="1.3" fill="#111"/>
<circle cx="208.5" cy="421" r="1.3" fill="#111"/>
<circle cx="212" cy="421.1" r="1.3" fill="#111"/>
<circle cx="215.7" cy="421.1" r="1.3" fill="#111"/>
<circle cx="219.3" cy="421.1" r="1.3" fill="#111"/>
<polyline points="224.4,420.8 229.2,420.8 232.4,418.5 235,421 239.8,421.3 246.2,421.3 254.4,421.3 265.9,421.3 274.2,421.3" fill="none" stroke="#333" stroke-width="0.65" stroke-linejoin="round"/>
<circle cx="229.2" cy="420.8" r="1.3" fill="#111"/>
<circle cx="232.4" cy="418.5" r="1.3" fill="#111"/>
<circle cx="235" cy="421" r="1.3" fill="#111"/>
<circle cx="239.8" cy="421.3" r="1.3" fill="#111"/>
<circle cx="246.2" cy="421.3" r="1.3" fill="#111"/>
<circle cx="254.4" cy="421.3" r="1.3" fill="#111"/>
<circle cx="265.9" cy="421.3" r="1.3" fill="#111"/>
<rect x="170.5" y="339.7" width="103.7" height="87.4" fill="none" stroke="#141414" stroke-width="1"/>
<rect x="221" y="338.2" width="3.2" height="3" fill="#fff"/>
<text transform="translate(222.6,341.8)" font-family='"Liberation Sans", sans-serif' font-size="6.2" text-anchor="middle" fill="#333" font-style="italic" stroke="#333" stroke-width="0.14">//</text>
<rect x="221" y="425.6" width="3.2" height="3" fill="#fff"/>
<text transform="translate(222.6,429.2)" font-family='"Liberation Sans", sans-serif' font-size="6.2" text-anchor="middle" fill="#333" font-style="italic" stroke="#333" stroke-width="0.14">//</text>
<line x1="168.7" y1="345.7" x2="170.5" y2="345.7" stroke="#141414" stroke-width="0.8"/>
<text transform="translate(166.6,348.6) scale(1.07,1)" font-family='"Liberation Sans", sans-serif' font-size="8.2" text-anchor="end" fill="#141414" stroke="#141414" stroke-width="0.17">12</text>
<line x1="168.7" y1="364.6" x2="170.5" y2="364.6" stroke="#141414" stroke-width="0.8"/>
<text transform="translate(166.6,367.5) scale(1.07,1)" font-family='"Liberation Sans", sans-serif' font-size="8.2" text-anchor="end" fill="#141414" stroke="#141414" stroke-width="0.17">9</text>
<line x1="168.7" y1="383.5" x2="170.5" y2="383.5" stroke="#141414" stroke-width="0.8"/>
<text transform="translate(166.6,386.4) scale(1.07,1)" font-family='"Liberation Sans", sans-serif' font-size="8.2" text-anchor="end" fill="#141414" stroke="#141414" stroke-width="0.17">6</text>
<line x1="168.7" y1="402.4" x2="170.5" y2="402.4" stroke="#141414" stroke-width="0.8"/>
<text transform="translate(166.6,405.3) scale(1.07,1)" font-family='"Liberation Sans", sans-serif' font-size="8.2" text-anchor="end" fill="#141414" stroke="#141414" stroke-width="0.17">3</text>
<line x1="168.7" y1="421.2" x2="170.5" y2="421.2" stroke="#141414" stroke-width="0.8"/>
<text transform="translate(166.6,424.1) scale(1.07,1)" font-family='"Liberation Sans", sans-serif' font-size="8.2" text-anchor="end" fill="#141414" stroke="#141414" stroke-width="0.17">0</text>
<line x1="169.3" y1="355.1" x2="170.5" y2="355.1" stroke="#141414" stroke-width="0.8"/>
<line x1="169.3" y1="374" x2="170.5" y2="374" stroke="#141414" stroke-width="0.8"/>
<line x1="169.3" y1="392.9" x2="170.5" y2="392.9" stroke="#141414" stroke-width="0.8"/>
<line x1="169.3" y1="411.8" x2="170.5" y2="411.8" stroke="#141414" stroke-width="0.8"/>
<line x1="179.5" y1="427.1" x2="179.5" y2="428.7" stroke="#141414" stroke-width="0.8"/>
<text transform="translate(179.5,436.6) scale(1.05,1)" font-family='"Liberation Sans", sans-serif' font-size="8.5" text-anchor="middle" fill="#141414" stroke="#141414" stroke-width="0.17">0.5</text>
<line x1="201.3" y1="427.1" x2="201.3" y2="428.7" stroke="#141414" stroke-width="0.8"/>
<text transform="translate(201.3,436.6) scale(1.05,1)" font-family='"Liberation Sans", sans-serif' font-size="8.5" text-anchor="middle" fill="#141414" stroke="#141414" stroke-width="0.17">1.0</text>
<line x1="232.1" y1="427.1" x2="232.1" y2="428.7" stroke="#141414" stroke-width="0.8"/>
<text transform="translate(232.1,436.6) scale(1.05,1)" font-family='"Liberation Sans", sans-serif' font-size="8.5" text-anchor="middle" fill="#141414" stroke="#141414" stroke-width="0.17">4</text>
<line x1="248.6" y1="427.1" x2="248.6" y2="428.7" stroke="#141414" stroke-width="0.8"/>
<text transform="translate(248.6,436.6) scale(1.05,1)" font-family='"Liberation Sans", sans-serif' font-size="8.5" text-anchor="middle" fill="#141414" stroke="#141414" stroke-width="0.17">6</text>
<line x1="265.3" y1="427.1" x2="265.3" y2="428.7" stroke="#141414" stroke-width="0.8"/>
<text transform="translate(265.3,436.6) scale(1.05,1)" font-family='"Liberation Sans", sans-serif' font-size="8.5" text-anchor="middle" fill="#141414" stroke="#141414" stroke-width="0.17">8</text>
<text transform="translate(189.4,447.6) scale(1.06,1)" font-family='"Liberation Sans", sans-serif' font-size="8.8" text-anchor="start" fill="#141414" stroke="#141414" stroke-width="0.17">Pore size (nm)</text>
<text transform="translate(156.8,384.3) rotate(-90) scale(0.98,1)" font-family='"Liberation Sans", sans-serif' font-size="8.8" text-anchor="middle" fill="#141414" stroke="#141414" stroke-width="0.17">d<tspan font-style="italic">V</tspan>/d<tspan font-style="italic">D</tspan> (cm<tspan font-size="6" dy="-3.2">3</tspan><tspan dy="3.2"> g</tspan><tspan font-size="6" dy="-3.2">-1</tspan><tspan dy="3.2"> nm</tspan><tspan font-size="6" dy="-3.2">-1</tspan><tspan dy="3.2">)</tspan></text>
<polyline points="410.8,440.69 410.8,439.87 410.8,439.06 410.8,438.24 410.8,437.43 410.8,436.62 410.8,435.8 410.8,434.99 410.8,434.17 410.8,433.36 410.8,432.55 410.8,431.73 410.8,430.92 410.8,429.83 410.91,424.41 410.91,414.37 410.91,399.45 410.91,383.71 410.91,371.78 410.91,362.82 411.02,360.11 411.02,359.3 411.02,358.48 411.02,357.67 411.02,356.85 411.02,356.04 411.02,355.23 411.02,354.41 411.02,353.6 411.02,352.78 411.02,351.97 411.02,351.16 411.02,350.34 411.02,349.53 411.02,348.72 411.02,347.9 411.02,347.09 411.02,346.27 411.02,345.46 411.02,344.65 411.02,343.83 411.02,343.02 411.24,342.2 411.47,341.39 411.69,340.71 411.91,340.17 412.13,339.76 412.58,339.08 413.02,338.41 413.47,337.86 414.14,337.05 414.8,336.29 415.47,335.69 416.36,335.01 417.47,334.28 418.58,333.66 419.7,333.2 420.81,332.82 421.92,332.49 423.25,332.17 425.03,331.84 426.81,331.54 428.59,331.3 430.82,331.03 433.04,330.76 439.71,330.1 446.83,330.1 456.61,330.16 467.29,330.16 478.63,330.21 489.97,330.21 500.2,330.27 512.66,330.27 524,330.4 534.9,330.4 546.02,330.4 556.92,330.4 568.04,330.27 578.71,329.59 589.39,328.91 600.28,327.28 610.29,324.41 619.41,318.06 626.53,304.3 633.2,267.19" fill="none" stroke="#111" stroke-width="1.1" stroke-linejoin="round"/>
<rect x="408.35" y="438.24" width="4.9" height="4.9" fill="#0a0a0a"/>
<rect x="408.35" y="437.42" width="4.9" height="4.9" fill="#0a0a0a"/>
<rect x="408.35" y="436.61" width="4.9" height="4.9" fill="#0a0a0a"/>
<rect x="408.35" y="435.79" width="4.9" height="4.9" fill="#0a0a0a"/>
<rect x="408.35" y="434.98" width="4.9" height="4.9" fill="#0a0a0a"/>
<rect x="408.35" y="434.17" width="4.9" height="4.9" fill="#0a0a0a"/>
<rect x="408.35" y="433.35" width="4.9" height="4.9" fill="#0a0a0a"/>
<rect x="408.35" y="432.54" width="4.9" height="4.9" fill="#0a0a0a"/>
<rect x="408.35" y="431.72" width="4.9" height="4.9" fill="#0a0a0a"/>
<rect x="408.35" y="430.91" width="4.9" height="4.9" fill="#0a0a0a"/>
<rect x="408.35" y="430.1" width="4.9" height="4.9" fill="#0a0a0a"/>
<rect x="408.35" y="429.28" width="4.9" height="4.9" fill="#0a0a0a"/>
<rect x="408.35" y="428.47" width="4.9" height="4.9" fill="#0a0a0a"/>
<rect x="408.35" y="427.38" width="4.9" height="4.9" fill="#0a0a0a"/>
<rect x="408.46" y="421.96" width="4.9" height="4.9" fill="#0a0a0a"/>
<rect x="408.46" y="411.92" width="4.9" height="4.9" fill="#0a0a0a"/>
<rect x="408.46" y="397" width="4.9" height="4.9" fill="#0a0a0a"/>
<rect x="408.46" y="381.26" width="4.9" height="4.9" fill="#0a0a0a"/>
<rect x="408.46" y="369.33" width="4.9" height="4.9" fill="#0a0a0a"/>
<rect x="408.46" y="360.37" width="4.9" height="4.9" fill="#0a0a0a"/>
<rect x="408.57" y="357.66" width="4.9" height="4.9" fill="#0a0a0a"/>
<rect x="408.57" y="356.85" width="4.9" height="4.9" fill="#0a0a0a"/>
<rect x="408.57" y="356.03" width="4.9" height="4.9" fill="#0a0a0a"/>
<rect x="408.57" y="355.22" width="4.9" height="4.9" fill="#0a0a0a"/>
<rect x="408.57" y="354.4" width="4.9" height="4.9" fill="#0a0a0a"/>
<rect x="408.57" y="353.59" width="4.9" height="4.9" fill="#0a0a0a"/>
<rect x="408.57" y="352.78" width="4.9" height="4.9" fill="#0a0a0a"/>
<rect x="408.57" y="351.96" width="4.9" height="4.9" fill="#0a0a0a"/>
<rect x="408.57" y="351.15" width="4.9" height="4.9" fill="#0a0a0a"/>
<rect x="408.57" y="350.33" width="4.9" height="4.9" fill="#0a0a0a"/>
<rect x="408.57" y="349.52" width="4.9" height="4.9" fill="#0a0a0a"/>
<rect x="408.57" y="348.71" width="4.9" height="4.9" fill="#0a0a0a"/>
<rect x="408.57" y="347.89" width="4.9" height="4.9" fill="#0a0a0a"/>
<rect x="408.57" y="347.08" width="4.9" height="4.9" fill="#0a0a0a"/>
<rect x="408.57" y="346.27" width="4.9" height="4.9" fill="#0a0a0a"/>
<rect x="408.57" y="345.45" width="4.9" height="4.9" fill="#0a0a0a"/>
<rect x="408.57" y="344.64" width="4.9" height="4.9" fill="#0a0a0a"/>
<rect x="408.57" y="343.82" width="4.9" height="4.9" fill="#0a0a0a"/>
<rect x="408.57" y="343.01" width="4.9" height="4.9" fill="#0a0a0a"/>
<rect x="408.57" y="342.2" width="4.9" height="4.9" fill="#0a0a0a"/>
<rect x="408.57" y="341.38" width="4.9" height="4.9" fill="#0a0a0a"/>
<rect x="408.57" y="340.57" width="4.9" height="4.9" fill="#0a0a0a"/>
<rect x="408.79" y="339.75" width="4.9" height="4.9" fill="#0a0a0a"/>
<rect x="409.02" y="338.94" width="4.9" height="4.9" fill="#0a0a0a"/>
<rect x="409.24" y="338.26" width="4.9" height="4.9" fill="#0a0a0a"/>
<rect x="409.46" y="337.72" width="4.9" height="4.9" fill="#0a0a0a"/>
<rect x="409.68" y="337.31" width="4.9" height="4.9" fill="#0a0a0a"/>
<rect x="410.13" y="336.63" width="4.9" height="4.9" fill="#0a0a0a"/>
<rect x="410.57" y="335.96" width="4.9" height="4.9" fill="#0a0a0a"/>
<rect x="411.02" y="335.41" width="4.9" height="4.9" fill="#0a0a0a"/>
<rect x="411.69" y="334.6" width="4.9" height="4.9" fill="#0a0a0a"/>
<rect x="412.35" y="333.84" width="4.9" height="4.9" fill="#0a0a0a"/>
<rect x="413.02" y="333.24" width="4.9" height="4.9" fill="#0a0a0a"/>
<rect x="413.91" y="332.56" width="4.9" height="4.9" fill="#0a0a0a"/>
<rect x="415.02" y="331.83" width="4.9" height="4.9" fill="#0a0a0a"/>
<rect x="416.13" y="331.21" width="4.9" height="4.9" fill="#0a0a0a"/>
<rect x="417.25" y="330.75" width="4.9" height="4.9" fill="#0a0a0a"/>
<rect x="418.36" y="330.37" width="4.9" height="4.9" fill="#0a0a0a"/>
<rect x="419.47" y="330.04" width="4.9" height="4.9" fill="#0a0a0a"/>
<rect x="420.8" y="329.72" width="4.9" height="4.9" fill="#0a0a0a"/>
<rect x="422.58" y="329.39" width="4.9" height="4.9" fill="#0a0a0a"/>
<rect x="424.36" y="329.09" width="4.9" height="4.9" fill="#0a0a0a"/>
<rect x="426.14" y="328.85" width="4.9" height="4.9" fill="#0a0a0a"/>
<rect x="428.37" y="328.58" width="4.9" height="4.9" fill="#0a0a0a"/>
<rect x="430.59" y="328.31" width="4.9" height="4.9" fill="#0a0a0a"/>
<rect x="437.26" y="327.65" width="4.9" height="4.9" fill="#0a0a0a"/>
<rect x="444.38" y="327.65" width="4.9" height="4.9" fill="#0a0a0a"/>
<rect x="454.16" y="327.71" width="4.9" height="4.9" fill="#0a0a0a"/>
<rect x="464.84" y="327.71" width="4.9" height="4.9" fill="#0a0a0a"/>
<rect x="476.18" y="327.76" width="4.9" height="4.9" fill="#0a0a0a"/>
<rect x="487.52" y="327.76" width="4.9" height="4.9" fill="#0a0a0a"/>
<rect x="497.75" y="327.82" width="4.9" height="4.9" fill="#0a0a0a"/>
<rect x="510.21" y="327.82" width="4.9" height="4.9" fill="#0a0a0a"/>
<rect x="521.55" y="327.95" width="4.9" height="4.9" fill="#0a0a0a"/>
<rect x="532.45" y="327.95" width="4.9" height="4.9" fill="#0a0a0a"/>
<rect x="543.57" y="327.95" width="4.9" height="4.9" fill="#0a0a0a"/>
<rect x="554.47" y="327.95" width="4.9" height="4.9" fill="#0a0a0a"/>
<rect x="565.59" y="327.82" width="4.9" height="4.9" fill="#0a0a0a"/>
<rect x="576.26" y="327.14" width="4.9" height="4.9" fill="#0a0a0a"/>
<rect x="586.94" y="326.46" width="4.9" height="4.9" fill="#0a0a0a"/>
<rect x="597.83" y="324.83" width="4.9" height="4.9" fill="#0a0a0a"/>
<rect x="607.84" y="321.96" width="4.9" height="4.9" fill="#0a0a0a"/>
<rect x="616.96" y="315.61" width="4.9" height="4.9" fill="#0a0a0a"/>
<rect x="624.08" y="301.85" width="4.9" height="4.9" fill="#0a0a0a"/>
<rect x="630.75" y="264.74" width="4.9" height="4.9" fill="#0a0a0a"/>
<polyline points="452.5,330 463.73,330 474.41,330 485.53,330 496.65,330 513.55,330 522.44,316.89 526.67,307.69 537.79,307.69 548.91,307.69 560.25,307.69 571.6,306.94 583.16,306.26 595.17,305.09 608.51,301.51 621.19,294.1 629.86,281.3 633.2,267.19" fill="none" stroke="#ee2a2a" stroke-width="1" stroke-linejoin="round"/>
<circle cx="452.5" cy="330" r="2.6" fill="#ee2a2a"/>
<circle cx="463.73" cy="330" r="2.6" fill="#ee2a2a"/>
<circle cx="474.41" cy="330" r="2.6" fill="#ee2a2a"/>
<circle cx="485.53" cy="330" r="2.6" fill="#ee2a2a"/>
<circle cx="496.65" cy="330" r="2.6" fill="#ee2a2a"/>
<circle cx="513.55" cy="330" r="2.6" fill="#ee2a2a"/>
<circle cx="522.44" cy="316.89" r="2.6" fill="#ee2a2a"/>
<circle cx="526.67" cy="307.69" r="2.6" fill="#ee2a2a"/>
<circle cx="537.79" cy="307.69" r="2.6" fill="#ee2a2a"/>
<circle cx="548.91" cy="307.69" r="2.6" fill="#ee2a2a"/>
<circle cx="560.25" cy="307.69" r="2.6" fill="#ee2a2a"/>
<circle cx="571.6" cy="306.94" r="2.6" fill="#ee2a2a"/>
<circle cx="583.16" cy="306.26" r="2.6" fill="#ee2a2a"/>
<circle cx="595.17" cy="305.09" r="2.6" fill="#ee2a2a"/>
<circle cx="608.51" cy="301.51" r="2.6" fill="#ee2a2a"/>
<circle cx="621.19" cy="294.1" r="2.6" fill="#ee2a2a"/>
<circle cx="629.86" cy="281.3" r="2.6" fill="#ee2a2a"/>
<rect x="630.7" y="264.69" width="5" height="5" fill="#ee2a2a"/>
<rect x="388.6" y="251.8" width="266.2" height="203.3" fill="none" stroke="#141414" stroke-width="1.7"/>
<line x1="388.56" y1="455.1" x2="388.56" y2="457.3" stroke="#141414" stroke-width="1.4"/>
<line x1="410.8" y1="455.1" x2="410.8" y2="458.7" stroke="#141414" stroke-width="1.4"/>
<line x1="433.04" y1="455.1" x2="433.04" y2="457.3" stroke="#141414" stroke-width="1.4"/>
<line x1="455.28" y1="455.1" x2="455.28" y2="458.7" stroke="#141414" stroke-width="1.4"/>
<line x1="477.52" y1="455.1" x2="477.52" y2="457.3" stroke="#141414" stroke-width="1.4"/>
<line x1="499.76" y1="455.1" x2="499.76" y2="458.7" stroke="#141414" stroke-width="1.4"/>
<line x1="522" y1="455.1" x2="522" y2="457.3" stroke="#141414" stroke-width="1.4"/>
<line x1="544.24" y1="455.1" x2="544.24" y2="458.7" stroke="#141414" stroke-width="1.4"/>
<line x1="566.48" y1="455.1" x2="566.48" y2="457.3" stroke="#141414" stroke-width="1.4"/>
<line x1="588.72" y1="455.1" x2="588.72" y2="458.7" stroke="#141414" stroke-width="1.4"/>
<line x1="610.96" y1="455.1" x2="610.96" y2="457.3" stroke="#141414" stroke-width="1.4"/>
<line x1="633.2" y1="455.1" x2="633.2" y2="458.7" stroke="#141414" stroke-width="1.4"/>
<line x1="655.44" y1="455.1" x2="655.44" y2="457.3" stroke="#141414" stroke-width="1.4"/>
<text transform="translate(410.8,472.8) scale(1.08,1)" font-family='"Liberation Sans", sans-serif' font-size="11.8" text-anchor="middle" fill="#141414" stroke="#141414" stroke-width="0.2">0.0</text>
<text transform="translate(455.28,472.8) scale(1.08,1)" font-family='"Liberation Sans", sans-serif' font-size="11.8" text-anchor="middle" fill="#141414" stroke="#141414" stroke-width="0.2">0.2</text>
<text transform="translate(499.76,472.8) scale(1.08,1)" font-family='"Liberation Sans", sans-serif' font-size="11.8" text-anchor="middle" fill="#141414" stroke="#141414" stroke-width="0.2">0.4</text>
<text transform="translate(544.24,472.8) scale(1.08,1)" font-family='"Liberation Sans", sans-serif' font-size="11.8" text-anchor="middle" fill="#141414" stroke="#141414" stroke-width="0.2">0.6</text>
<text transform="translate(588.72,472.8) scale(1.08,1)" font-family='"Liberation Sans", sans-serif' font-size="11.8" text-anchor="middle" fill="#141414" stroke="#141414" stroke-width="0.2">0.8</text>
<text transform="translate(633.2,472.8) scale(1.08,1)" font-family='"Liberation Sans", sans-serif' font-size="11.8" text-anchor="middle" fill="#141414" stroke="#141414" stroke-width="0.2">1.0</text>
<line x1="384.6" y1="441.5" x2="388.6" y2="441.5" stroke="#141414" stroke-width="1.4"/>
<text transform="translate(379.4,445.7) scale(1.12,1)" font-family='"Liberation Sans", sans-serif' font-size="11.8" text-anchor="end" fill="#141414" stroke="#141414" stroke-width="0.2">0</text>
<line x1="384.6" y1="400.81" x2="388.6" y2="400.81" stroke="#141414" stroke-width="1.4"/>
<text transform="translate(379.4,405) scale(1.12,1)" font-family='"Liberation Sans", sans-serif' font-size="11.8" text-anchor="end" fill="#141414" stroke="#141414" stroke-width="0.2">150</text>
<line x1="384.6" y1="360.11" x2="388.6" y2="360.11" stroke="#141414" stroke-width="1.4"/>
<text transform="translate(379.4,364.31) scale(1.12,1)" font-family='"Liberation Sans", sans-serif' font-size="11.8" text-anchor="end" fill="#141414" stroke="#141414" stroke-width="0.2">300</text>
<line x1="384.6" y1="319.42" x2="388.6" y2="319.42" stroke="#141414" stroke-width="1.4"/>
<text transform="translate(379.4,323.62) scale(1.12,1)" font-family='"Liberation Sans", sans-serif' font-size="11.8" text-anchor="end" fill="#141414" stroke="#141414" stroke-width="0.2">450</text>
<line x1="384.6" y1="278.72" x2="388.6" y2="278.72" stroke="#141414" stroke-width="1.4"/>
<text transform="translate(379.4,282.92) scale(1.12,1)" font-family='"Liberation Sans", sans-serif' font-size="11.8" text-anchor="end" fill="#141414" stroke="#141414" stroke-width="0.2">600</text>
<line x1="386.3" y1="421.15" x2="388.6" y2="421.15" stroke="#141414" stroke-width="1.4"/>
<line x1="386.3" y1="380.46" x2="388.6" y2="380.46" stroke="#141414" stroke-width="1.4"/>
<line x1="386.3" y1="339.76" x2="388.6" y2="339.76" stroke="#141414" stroke-width="1.4"/>
<line x1="386.3" y1="299.07" x2="388.6" y2="299.07" stroke="#141414" stroke-width="1.4"/>
<line x1="386.3" y1="258.37" x2="388.6" y2="258.37" stroke="#141414" stroke-width="1.4"/>
<line x1="507.7" y1="264.5" x2="537.4" y2="264.5" stroke="#111" stroke-width="1.1"/>
<rect x="520.05" y="262.1" width="5" height="5" fill="#0a0a0a"/>
<line x1="507.7" y1="280.5" x2="537.4" y2="280.5" stroke="#ee2a2a" stroke-width="1.1"/>
<circle cx="522.55" cy="280.5" r="2.8" fill="#ee2a2a"/>
<text transform="translate(541,269.2) scale(1.07,1)" font-family='"Liberation Sans", sans-serif' font-size="12.2" text-anchor="start" fill="#141414" stroke="#141414" stroke-width="0.2">adsorption</text>
<text transform="translate(541,284.1) scale(1.07,1)" font-family='"Liberation Sans", sans-serif' font-size="12.2" text-anchor="start" fill="#141414" stroke="#141414" stroke-width="0.2">desorption</text>
<text transform="translate(395.2,274.2) scale(1.03,1)" font-family='"Liberation Serif", serif' font-size="19.9" text-anchor="start" fill="#141414" font-weight="bold" stroke="#141414" stroke-width="0.26">(d)</text>
<text transform="translate(438.7,489) scale(1.15,1)" font-family='"Liberation Sans", sans-serif' font-size="14.2" text-anchor="start" fill="#141414" stroke="#141414" stroke-width="0.22">Relative pressure (<tspan font-style="italic">P</tspan>/<tspan font-style="italic">P</tspan><tspan font-size="11" dy="3.6" font-style="italic">0</tspan><tspan dy="-3.6">)</tspan></text>
<text transform="translate(350.6,444.1) rotate(-90) scale(1,1)" font-family='"Liberation Sans", sans-serif' font-size="15.2" text-anchor="start" fill="#141414" stroke="#141414" stroke-width="0.23">Adsorbed volume (cm<tspan font-size="11" dy="-3.8">3</tspan><tspan dy="3.8"> g</tspan><tspan font-size="11" dy="-3.8">-1</tspan><tspan dy="3.8">)</tspan></text>
<rect x="509.3" y="343.7" width="104.7" height="90.1" fill="#ffffff" stroke="none"/>
<polyline points="519.1,422.1 519.1,416.5 518.7,400 519.5,381.9 519.5,349.7 520.7,406.4 522.7,416.5 523.6,419 524.6,420.7 525.6,421.9 526.6,422.7 527.6,423.3 528.6,423.8 529.6,424.2 530.6,424.5 531.6,424.8 532.8,425 534,425.2 535.5,425.4 537,425.5 538.5,425.6 540,425.7 542,425.8 544,425.9 546.5,426 549,426.1 552,426.1 555.5,426.2 559.3,426.2" fill="none" stroke="#333" stroke-width="0.65" stroke-linejoin="round"/>
<circle cx="519.1" cy="422.1" r="1.3" fill="#111"/>
<circle cx="519.1" cy="416.5" r="1.3" fill="#111"/>
<circle cx="518.7" cy="400" r="1.3" fill="#111"/>
<circle cx="519.5" cy="381.9" r="1.3" fill="#111"/>
<circle cx="519.5" cy="349.7" r="1.3" fill="#111"/>
<circle cx="520.7" cy="406.4" r="1.3" fill="#111"/>
<circle cx="522.7" cy="416.5" r="1.3" fill="#111"/>
<circle cx="523.6" cy="419" r="1.3" fill="#111"/>
<circle cx="524.6" cy="420.7" r="1.3" fill="#111"/>
<circle cx="525.6" cy="421.9" r="1.3" fill="#111"/>
<circle cx="526.6" cy="422.7" r="1.3" fill="#111"/>
<circle cx="527.6" cy="423.3" r="1.3" fill="#111"/>
<circle cx="528.6" cy="423.8" r="1.3" fill="#111"/>
<circle cx="529.6" cy="424.2" r="1.3" fill="#111"/>
<circle cx="530.6" cy="424.5" r="1.3" fill="#111"/>
<circle cx="531.6" cy="424.8" r="1.3" fill="#111"/>
<circle cx="532.8" cy="425" r="1.3" fill="#111"/>
<circle cx="534" cy="425.2" r="1.3" fill="#111"/>
<circle cx="535.5" cy="425.4" r="1.3" fill="#111"/>
<circle cx="537" cy="425.5" r="1.3" fill="#111"/>
<circle cx="538.5" cy="425.6" r="1.3" fill="#111"/>
<circle cx="540" cy="425.7" r="1.3" fill="#111"/>
<circle cx="542" cy="425.8" r="1.3" fill="#111"/>
<circle cx="544" cy="425.9" r="1.3" fill="#111"/>
<circle cx="546.5" cy="426" r="1.3" fill="#111"/>
<circle cx="549" cy="426.1" r="1.3" fill="#111"/>
<circle cx="552" cy="426.1" r="1.3" fill="#111"/>
<circle cx="555.5" cy="426.2" r="1.3" fill="#111"/>
<circle cx="559.3" cy="426.2" r="1.3" fill="#111"/>
<polyline points="563.5,426 566.5,426 569.8,424.3 572.2,424.1 574.5,426.1 579.5,426.2 587.5,426.2 595.5,426.2 604.4,426.2 614,426.2" fill="none" stroke="#333" stroke-width="0.65" stroke-linejoin="round"/>
<circle cx="566.5" cy="426" r="1.3" fill="#111"/>
<circle cx="569.8" cy="424.3" r="1.3" fill="#111"/>
<circle cx="572.2" cy="424.1" r="1.3" fill="#111"/>
<circle cx="574.5" cy="426.1" r="1.3" fill="#111"/>
<circle cx="579.5" cy="426.2" r="1.3" fill="#111"/>
<circle cx="587.5" cy="426.2" r="1.3" fill="#111"/>
<circle cx="595.5" cy="426.2" r="1.3" fill="#111"/>
<circle cx="604.4" cy="426.2" r="1.3" fill="#111"/>
<rect x="509.3" y="343.7" width="104.7" height="90.1" fill="none" stroke="#141414" stroke-width="1"/>
<rect x="560" y="342.2" width="3.2" height="3" fill="#fff"/>
<text transform="translate(561.6,345.8)" font-family='"Liberation Sans", sans-serif' font-size="6.2" text-anchor="middle" fill="#333" font-style="italic" stroke="#333" stroke-width="0.14">//</text>
<rect x="560" y="432.3" width="3.2" height="3" fill="#fff"/>
<text transform="translate(561.6,435.9)" font-family='"Liberation Sans", sans-serif' font-size="6.2" text-anchor="middle" fill="#333" font-style="italic" stroke="#333" stroke-width="0.14">//</text>
<line x1="507.5" y1="350" x2="509.3" y2="350" stroke="#141414" stroke-width="0.8"/>
<text transform="translate(505.6,352.9) scale(1.07,1)" font-family='"Liberation Sans", sans-serif' font-size="8.2" text-anchor="end" fill="#141414" stroke="#141414" stroke-width="0.17">15</text>
<line x1="507.5" y1="365.2" x2="509.3" y2="365.2" stroke="#141414" stroke-width="0.8"/>
<text transform="translate(505.6,368.1) scale(1.07,1)" font-family='"Liberation Sans", sans-serif' font-size="8.2" text-anchor="end" fill="#141414" stroke="#141414" stroke-width="0.17">12</text>
<line x1="507.5" y1="380.5" x2="509.3" y2="380.5" stroke="#141414" stroke-width="0.8"/>
<text transform="translate(505.6,383.4) scale(1.07,1)" font-family='"Liberation Sans", sans-serif' font-size="8.2" text-anchor="end" fill="#141414" stroke="#141414" stroke-width="0.17">9</text>
<line x1="507.5" y1="395.7" x2="509.3" y2="395.7" stroke="#141414" stroke-width="0.8"/>
<text transform="translate(505.6,398.6) scale(1.07,1)" font-family='"Liberation Sans", sans-serif' font-size="8.2" text-anchor="end" fill="#141414" stroke="#141414" stroke-width="0.17">6</text>
<line x1="507.5" y1="410.9" x2="509.3" y2="410.9" stroke="#141414" stroke-width="0.8"/>
<text transform="translate(505.6,413.8) scale(1.07,1)" font-family='"Liberation Sans", sans-serif' font-size="8.2" text-anchor="end" fill="#141414" stroke="#141414" stroke-width="0.17">3</text>
<line x1="507.5" y1="426.2" x2="509.3" y2="426.2" stroke="#141414" stroke-width="0.8"/>
<text transform="translate(505.6,429.1) scale(1.07,1)" font-family='"Liberation Sans", sans-serif' font-size="8.2" text-anchor="end" fill="#141414" stroke="#141414" stroke-width="0.17">0</text>
<line x1="508.1" y1="357.6" x2="509.3" y2="357.6" stroke="#141414" stroke-width="0.8"/>
<line x1="508.1" y1="372.9" x2="509.3" y2="372.9" stroke="#141414" stroke-width="0.8"/>
<line x1="508.1" y1="388.1" x2="509.3" y2="388.1" stroke="#141414" stroke-width="0.8"/>
<line x1="508.1" y1="403.3" x2="509.3" y2="403.3" stroke="#141414" stroke-width="0.8"/>
<line x1="508.1" y1="418.6" x2="509.3" y2="418.6" stroke="#141414" stroke-width="0.8"/>
<line x1="519.7" y1="433.8" x2="519.7" y2="435.4" stroke="#141414" stroke-width="0.8"/>
<text transform="translate(519.7,443.2) scale(1.05,1)" font-family='"Liberation Sans", sans-serif' font-size="8.5" text-anchor="middle" fill="#141414" stroke="#141414" stroke-width="0.17">0.5</text>
<line x1="539.1" y1="433.8" x2="539.1" y2="435.4" stroke="#141414" stroke-width="0.8"/>
<text transform="translate(539.1,443.2) scale(1.05,1)" font-family='"Liberation Sans", sans-serif' font-size="8.5" text-anchor="middle" fill="#141414" stroke="#141414" stroke-width="0.17">1.0</text>
<line x1="570.5" y1="433.8" x2="570.5" y2="435.4" stroke="#141414" stroke-width="0.8"/>
<text transform="translate(570.5,443.2) scale(1.05,1)" font-family='"Liberation Sans", sans-serif' font-size="8.5" text-anchor="middle" fill="#141414" stroke="#141414" stroke-width="0.17">4</text>
<line x1="587.4" y1="433.8" x2="587.4" y2="435.4" stroke="#141414" stroke-width="0.8"/>
<text transform="translate(587.4,443.2) scale(1.05,1)" font-family='"Liberation Sans", sans-serif' font-size="8.5" text-anchor="middle" fill="#141414" stroke="#141414" stroke-width="0.17">6</text>
<line x1="604.3" y1="433.8" x2="604.3" y2="435.4" stroke="#141414" stroke-width="0.8"/>
<text transform="translate(604.3,443.2) scale(1.05,1)" font-family='"Liberation Sans", sans-serif' font-size="8.5" text-anchor="middle" fill="#141414" stroke="#141414" stroke-width="0.17">8</text>
<text transform="translate(534.1,451.4) scale(1.06,1)" font-family='"Liberation Sans", sans-serif' font-size="8.8" text-anchor="start" fill="#141414" stroke="#141414" stroke-width="0.17">Pore size (nm)</text>
<text transform="translate(491.8,389.3) rotate(-90) scale(0.98,1)" font-family='"Liberation Sans", sans-serif' font-size="8.8" text-anchor="middle" fill="#141414" stroke="#141414" stroke-width="0.17">d<tspan font-style="italic">V</tspan>/d<tspan font-style="italic">D</tspan> (cm<tspan font-size="6" dy="-3.2">3</tspan><tspan dy="3.2"> g</tspan><tspan font-size="6" dy="-3.2">-1</tspan><tspan dy="3.2"> nm</tspan><tspan font-size="6" dy="-3.2">-1</tspan><tspan dy="3.2">)</tspan></text>
</svg>
</body></html>
